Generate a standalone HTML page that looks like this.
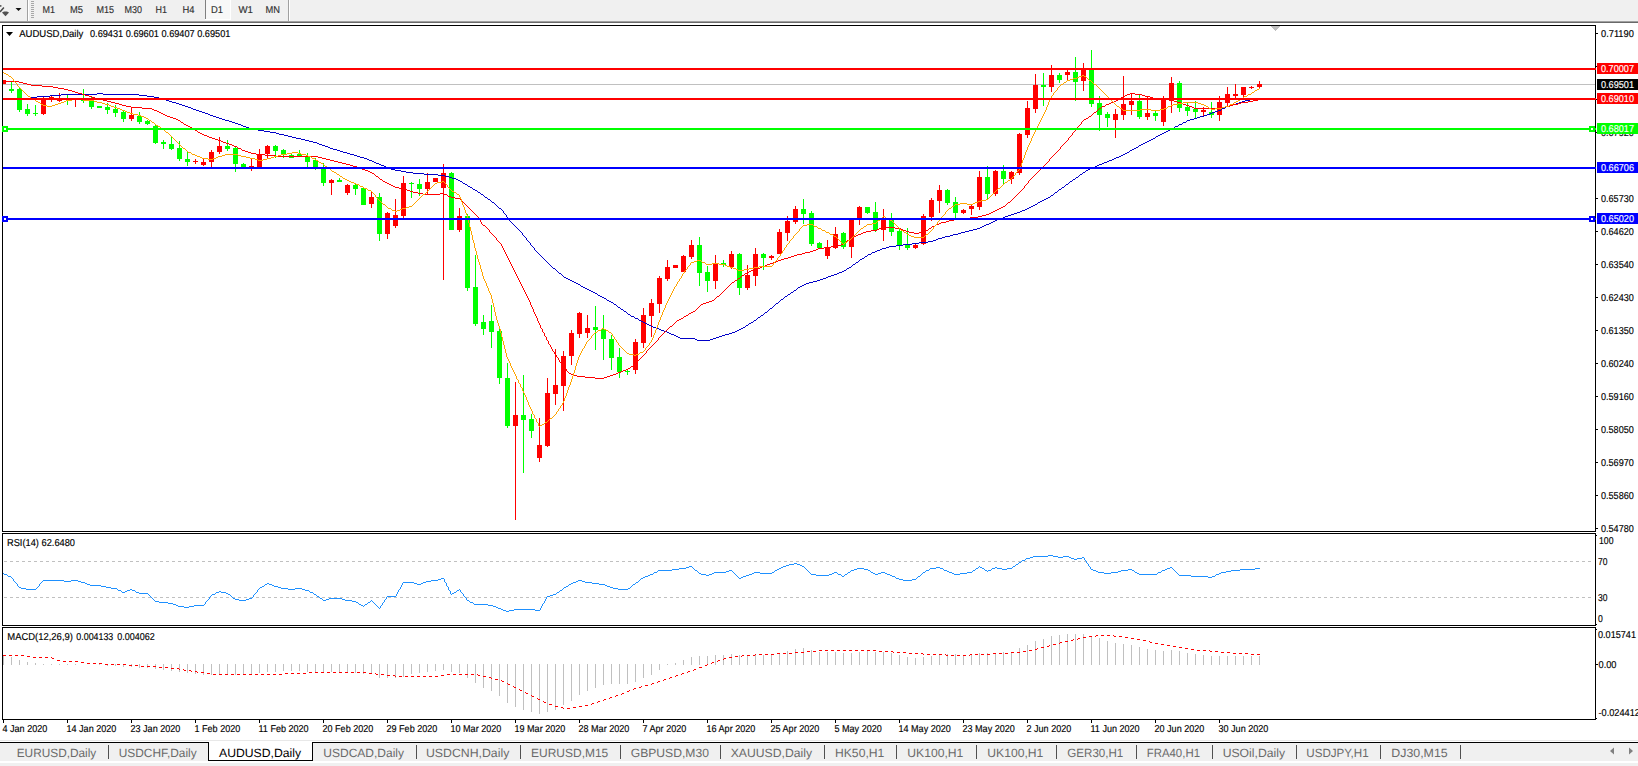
<!DOCTYPE html>
<html><head><meta charset="utf-8"><title>AUDUSD,Daily</title>
<style>html,body{margin:0;padding:0;background:#fff;overflow:hidden}body{width:1638px;height:766px;position:relative}svg{position:absolute;left:0;top:0;display:block}text{font-family:"Liberation Sans",sans-serif;white-space:pre;text-rendering:geometricPrecision}.c{shape-rendering:crispEdges}</style></head><body>
<svg width="1638" height="766" viewBox="0 0 1638 766">
<g class="c">
<rect x="0" y="0" width="1638" height="21" fill="#f0f0f0"/>
<rect x="0" y="21" width="1638" height="1" fill="#a0a0a0"/>
<rect x="0" y="22" width="1638" height="1" fill="#696969"/>
<rect x="27" y="0" width="1" height="21" fill="#a0a0a0"/>
<rect x="28" y="0" width="1" height="21" fill="#ffffff"/>
<rect x="31" y="1" width="3" height="1" fill="#a8a8a8"/>
<rect x="31" y="3" width="3" height="1" fill="#a8a8a8"/>
<rect x="31" y="5" width="3" height="1" fill="#a8a8a8"/>
<rect x="31" y="7" width="3" height="1" fill="#a8a8a8"/>
<rect x="31" y="9" width="3" height="1" fill="#a8a8a8"/>
<rect x="31" y="11" width="3" height="1" fill="#a8a8a8"/>
<rect x="31" y="13" width="3" height="1" fill="#a8a8a8"/>
<rect x="31" y="15" width="3" height="1" fill="#a8a8a8"/>
<rect x="31" y="17" width="3" height="1" fill="#a8a8a8"/>
<rect x="205" y="0" width="26" height="20" fill="#ffffff"/>
<rect x="206" y="0" width="24" height="19" fill="#f8f8f8"/>
<rect x="205" y="0" width="1" height="19" fill="#808080"/>
<rect x="288" y="0" width="1" height="21" fill="#a0a0a0"/>
<rect x="289" y="0" width="1" height="21" fill="#ffffff"/>
</g>
<path d="M0 11.9 L3.9 7.4 M0 5.6 L1.4 6.2" stroke="#4a4a4a" stroke-width="1.5" fill="none"/>
<path d="M2 12.6 L4 11.4 L7 11.4 L9 12.6 L5.5 16.2 Z" fill="#505050"/>
<path d="M15.5 8 L21.5 8 L18.5 11 Z" fill="#111"/>
<text x="42.5" y="13" font-size="10" fill="#303030" stroke="#303030" stroke-width="0.15" textLength="12.5" lengthAdjust="spacingAndGlyphs" stroke-width="0">M1</text>
<text x="70" y="13" font-size="10" fill="#303030" stroke="#303030" stroke-width="0.15" textLength="13" lengthAdjust="spacingAndGlyphs" stroke-width="0">M5</text>
<text x="96.5" y="13" font-size="10" fill="#303030" stroke="#303030" stroke-width="0.15" textLength="17.5" lengthAdjust="spacingAndGlyphs" stroke-width="0">M15</text>
<text x="124.5" y="13" font-size="10" fill="#303030" stroke="#303030" stroke-width="0.15" textLength="17.5" lengthAdjust="spacingAndGlyphs" stroke-width="0">M30</text>
<text x="155.5" y="13" font-size="10" fill="#303030" stroke="#303030" stroke-width="0.15" textLength="11.5" lengthAdjust="spacingAndGlyphs" stroke-width="0">H1</text>
<text x="182.5" y="13" font-size="10" fill="#303030" stroke="#303030" stroke-width="0.15" textLength="12.0" lengthAdjust="spacingAndGlyphs" stroke-width="0">H4</text>
<text x="211" y="13" font-size="10" fill="#303030" stroke="#303030" stroke-width="0.15" textLength="12" lengthAdjust="spacingAndGlyphs" stroke-width="0">D1</text>
<text x="238.5" y="13" font-size="10" fill="#303030" stroke="#303030" stroke-width="0.15" textLength="14.5" lengthAdjust="spacingAndGlyphs" stroke-width="0">W1</text>
<text x="265.5" y="13" font-size="10" fill="#303030" stroke="#303030" stroke-width="0.15" textLength="14.5" lengthAdjust="spacingAndGlyphs" stroke-width="0">MN</text>
<g class="c">
<rect x="2" y="25" width="1" height="507" fill="#000"/>
<rect x="1595" y="25" width="1" height="507" fill="#000"/>
<rect x="2" y="533" width="1" height="93" fill="#000"/>
<rect x="1595" y="533" width="1" height="93" fill="#000"/>
<rect x="2" y="627" width="1" height="93" fill="#000"/>
<rect x="1595" y="627" width="1" height="93" fill="#000"/>
<rect x="2" y="25" width="1593" height="1" fill="#000"/>
<rect x="2" y="531" width="1593" height="1" fill="#000"/>
<rect x="2" y="533" width="1593" height="1" fill="#000"/>
<rect x="2" y="625" width="1593" height="1" fill="#000"/>
<rect x="2" y="627" width="1593" height="1" fill="#000"/>
<rect x="2" y="719" width="1593" height="1" fill="#000"/>
<rect x="1596" y="535" width="1" height="1" fill="#000"/>
<rect x="1596" y="624" width="1" height="1" fill="#000"/>
<rect x="1596" y="629" width="1" height="1" fill="#000"/>
<rect x="1596" y="718" width="1" height="1" fill="#000"/>
<rect x="3" y="720" width="1" height="3" fill="#000"/>
<rect x="67" y="720" width="1" height="3" fill="#000"/>
<rect x="131" y="720" width="1" height="3" fill="#000"/>
<rect x="195" y="720" width="1" height="3" fill="#000"/>
<rect x="259" y="720" width="1" height="3" fill="#000"/>
<rect x="323" y="720" width="1" height="3" fill="#000"/>
<rect x="387" y="720" width="1" height="3" fill="#000"/>
<rect x="451" y="720" width="1" height="3" fill="#000"/>
<rect x="515" y="720" width="1" height="3" fill="#000"/>
<rect x="579" y="720" width="1" height="3" fill="#000"/>
<rect x="643" y="720" width="1" height="3" fill="#000"/>
<rect x="707" y="720" width="1" height="3" fill="#000"/>
<rect x="771" y="720" width="1" height="3" fill="#000"/>
<rect x="835" y="720" width="1" height="3" fill="#000"/>
<rect x="899" y="720" width="1" height="3" fill="#000"/>
<rect x="963" y="720" width="1" height="3" fill="#000"/>
<rect x="1027" y="720" width="1" height="3" fill="#000"/>
<rect x="1091" y="720" width="1" height="3" fill="#000"/>
<rect x="1155" y="720" width="1" height="3" fill="#000"/>
<rect x="1219" y="720" width="1" height="3" fill="#000"/>
</g>
<clipPath id="cm"><rect x="3" y="26" width="1592" height="505"/></clipPath>
<g class="c" clip-path="url(#cm)">
<rect x="3" y="84" width="1592" height="1" fill="#c0c0c0"/>
<rect x="3" y="80" width="1" height="4" fill="#ff0000"/>
<rect x="1" y="80" width="5" height="4" fill="#ff0000"/>
<rect x="11" y="82" width="1" height="11" fill="#00ff00"/>
<rect x="9" y="89" width="5" height="2" fill="#00ff00"/>
<rect x="19" y="87" width="1" height="25" fill="#00ff00"/>
<rect x="17" y="89" width="5" height="21" fill="#00ff00"/>
<rect x="27" y="104" width="1" height="12" fill="#00ff00"/>
<rect x="25" y="109" width="5" height="5" fill="#00ff00"/>
<rect x="35" y="105" width="1" height="11" fill="#00ff00"/>
<rect x="33" y="113" width="5" height="1" fill="#00ff00"/>
<rect x="43" y="97" width="1" height="18" fill="#ff0000"/>
<rect x="41" y="98" width="5" height="16" fill="#ff0000"/>
<rect x="51" y="96" width="1" height="6" fill="#ff0000"/>
<rect x="49" y="97" width="5" height="3" fill="#ff0000"/>
<rect x="59" y="93" width="1" height="9" fill="#ff0000"/>
<rect x="57" y="98" width="5" height="3" fill="#ff0000"/>
<rect x="67" y="95" width="1" height="10" fill="#00ff00"/>
<rect x="65" y="99" width="5" height="1" fill="#00ff00"/>
<rect x="75" y="99" width="1" height="8" fill="#ff0000"/>
<rect x="73" y="99" width="5" height="1" fill="#ff0000"/>
<rect x="83" y="89" width="1" height="14" fill="#00ff00"/>
<rect x="81" y="98" width="5" height="3" fill="#00ff00"/>
<rect x="91" y="96" width="1" height="13" fill="#00ff00"/>
<rect x="89" y="100" width="5" height="7" fill="#00ff00"/>
<rect x="99" y="106" width="1" height="2" fill="#00ff00"/>
<rect x="97" y="106" width="5" height="2" fill="#00ff00"/>
<rect x="107" y="103" width="1" height="11" fill="#00ff00"/>
<rect x="105" y="107" width="5" height="3" fill="#00ff00"/>
<rect x="115" y="105" width="1" height="12" fill="#00ff00"/>
<rect x="113" y="109" width="5" height="4" fill="#00ff00"/>
<rect x="123" y="111" width="1" height="11" fill="#00ff00"/>
<rect x="121" y="112" width="5" height="7" fill="#00ff00"/>
<rect x="131" y="107" width="1" height="14" fill="#ff0000"/>
<rect x="129" y="115" width="5" height="4" fill="#ff0000"/>
<rect x="139" y="112" width="1" height="12" fill="#00ff00"/>
<rect x="137" y="116" width="5" height="6" fill="#00ff00"/>
<rect x="147" y="120" width="1" height="5" fill="#00ff00"/>
<rect x="145" y="121" width="5" height="3" fill="#00ff00"/>
<rect x="155" y="125" width="1" height="19" fill="#00ff00"/>
<rect x="153" y="126" width="5" height="17" fill="#00ff00"/>
<rect x="163" y="140" width="1" height="9" fill="#00ff00"/>
<rect x="161" y="142" width="5" height="2" fill="#00ff00"/>
<rect x="171" y="136" width="1" height="14" fill="#00ff00"/>
<rect x="169" y="144" width="5" height="5" fill="#00ff00"/>
<rect x="179" y="141" width="1" height="20" fill="#00ff00"/>
<rect x="177" y="148" width="5" height="11" fill="#00ff00"/>
<rect x="187" y="152" width="1" height="14" fill="#00ff00"/>
<rect x="185" y="159" width="5" height="3" fill="#00ff00"/>
<rect x="195" y="159" width="1" height="5" fill="#ff0000"/>
<rect x="193" y="161" width="5" height="1" fill="#ff0000"/>
<rect x="203" y="159" width="1" height="7" fill="#ff0000"/>
<rect x="201" y="162" width="5" height="3" fill="#ff0000"/>
<rect x="211" y="150" width="1" height="17" fill="#ff0000"/>
<rect x="209" y="152" width="5" height="10" fill="#ff0000"/>
<rect x="219" y="137" width="1" height="17" fill="#ff0000"/>
<rect x="217" y="146" width="5" height="6" fill="#ff0000"/>
<rect x="227" y="140" width="1" height="11" fill="#00ff00"/>
<rect x="225" y="146" width="5" height="3" fill="#00ff00"/>
<rect x="235" y="147" width="1" height="25" fill="#00ff00"/>
<rect x="233" y="148" width="5" height="16" fill="#00ff00"/>
<rect x="243" y="163" width="1" height="5" fill="#00ff00"/>
<rect x="241" y="164" width="5" height="3" fill="#00ff00"/>
<rect x="251" y="159" width="1" height="12" fill="#ff0000"/>
<rect x="249" y="166" width="5" height="2" fill="#ff0000"/>
<rect x="259" y="149" width="1" height="19" fill="#ff0000"/>
<rect x="257" y="154" width="5" height="13" fill="#ff0000"/>
<rect x="267" y="145" width="1" height="13" fill="#ff0000"/>
<rect x="265" y="146" width="5" height="8" fill="#ff0000"/>
<rect x="275" y="145" width="1" height="13" fill="#00ff00"/>
<rect x="273" y="146" width="5" height="5" fill="#00ff00"/>
<rect x="283" y="149" width="1" height="9" fill="#00ff00"/>
<rect x="281" y="150" width="5" height="5" fill="#00ff00"/>
<rect x="291" y="154" width="1" height="4" fill="#00ff00"/>
<rect x="289" y="155" width="5" height="3" fill="#00ff00"/>
<rect x="299" y="150" width="1" height="7" fill="#00ff00"/>
<rect x="297" y="154" width="5" height="2" fill="#00ff00"/>
<rect x="307" y="153" width="1" height="14" fill="#00ff00"/>
<rect x="305" y="156" width="5" height="6" fill="#00ff00"/>
<rect x="315" y="158" width="1" height="12" fill="#00ff00"/>
<rect x="313" y="160" width="5" height="7" fill="#00ff00"/>
<rect x="323" y="163" width="1" height="23" fill="#00ff00"/>
<rect x="321" y="169" width="5" height="14" fill="#00ff00"/>
<rect x="331" y="179" width="1" height="16" fill="#ff0000"/>
<rect x="329" y="180" width="5" height="3" fill="#ff0000"/>
<rect x="339" y="178" width="1" height="4" fill="#00ff00"/>
<rect x="337" y="180" width="5" height="2" fill="#00ff00"/>
<rect x="347" y="184" width="1" height="11" fill="#ff0000"/>
<rect x="345" y="185" width="5" height="8" fill="#ff0000"/>
<rect x="355" y="184" width="1" height="11" fill="#00ff00"/>
<rect x="353" y="185" width="5" height="4" fill="#00ff00"/>
<rect x="363" y="188" width="1" height="17" fill="#00ff00"/>
<rect x="361" y="188" width="5" height="17" fill="#00ff00"/>
<rect x="371" y="192" width="1" height="16" fill="#ff0000"/>
<rect x="369" y="197" width="5" height="7" fill="#ff0000"/>
<rect x="379" y="193" width="1" height="48" fill="#00ff00"/>
<rect x="377" y="197" width="5" height="37" fill="#00ff00"/>
<rect x="387" y="212" width="1" height="27" fill="#ff0000"/>
<rect x="385" y="213" width="5" height="21" fill="#ff0000"/>
<rect x="395" y="199" width="1" height="29" fill="#ff0000"/>
<rect x="393" y="215" width="5" height="11" fill="#ff0000"/>
<rect x="403" y="176" width="1" height="42" fill="#ff0000"/>
<rect x="401" y="183" width="5" height="33" fill="#ff0000"/>
<rect x="411" y="182" width="1" height="16" fill="#00ff00"/>
<rect x="409" y="183" width="5" height="1" fill="#00ff00"/>
<rect x="419" y="179" width="1" height="17" fill="#00ff00"/>
<rect x="417" y="184" width="5" height="5" fill="#00ff00"/>
<rect x="427" y="173" width="1" height="21" fill="#ff0000"/>
<rect x="425" y="182" width="5" height="7" fill="#ff0000"/>
<rect x="435" y="178" width="1" height="4" fill="#ff0000"/>
<rect x="433" y="178" width="5" height="4" fill="#ff0000"/>
<rect x="443" y="164" width="1" height="116" fill="#ff0000"/>
<rect x="441" y="173" width="5" height="15" fill="#ff0000"/>
<rect x="451" y="172" width="1" height="58" fill="#00ff00"/>
<rect x="449" y="173" width="5" height="57" fill="#00ff00"/>
<rect x="459" y="208" width="1" height="24" fill="#ff0000"/>
<rect x="457" y="216" width="5" height="14" fill="#ff0000"/>
<rect x="467" y="214" width="1" height="77" fill="#00ff00"/>
<rect x="465" y="216" width="5" height="72" fill="#00ff00"/>
<rect x="475" y="255" width="1" height="71" fill="#00ff00"/>
<rect x="473" y="287" width="5" height="37" fill="#00ff00"/>
<rect x="483" y="315" width="1" height="20" fill="#00ff00"/>
<rect x="481" y="322" width="5" height="7" fill="#00ff00"/>
<rect x="491" y="305" width="1" height="43" fill="#00ff00"/>
<rect x="489" y="321" width="5" height="11" fill="#00ff00"/>
<rect x="499" y="326" width="1" height="58" fill="#00ff00"/>
<rect x="497" y="331" width="5" height="47" fill="#00ff00"/>
<rect x="507" y="363" width="1" height="65" fill="#00ff00"/>
<rect x="505" y="378" width="5" height="48" fill="#00ff00"/>
<rect x="515" y="382" width="1" height="138" fill="#ff0000"/>
<rect x="513" y="415" width="5" height="11" fill="#ff0000"/>
<rect x="523" y="375" width="1" height="98" fill="#00ff00"/>
<rect x="521" y="415" width="5" height="5" fill="#00ff00"/>
<rect x="531" y="414" width="1" height="24" fill="#00ff00"/>
<rect x="529" y="419" width="5" height="12" fill="#00ff00"/>
<rect x="539" y="418" width="1" height="44" fill="#ff0000"/>
<rect x="537" y="445" width="5" height="13" fill="#ff0000"/>
<rect x="547" y="378" width="1" height="69" fill="#ff0000"/>
<rect x="545" y="393" width="5" height="53" fill="#ff0000"/>
<rect x="555" y="349" width="1" height="56" fill="#ff0000"/>
<rect x="553" y="385" width="5" height="9" fill="#ff0000"/>
<rect x="563" y="351" width="1" height="60" fill="#ff0000"/>
<rect x="561" y="356" width="5" height="30" fill="#ff0000"/>
<rect x="571" y="330" width="1" height="35" fill="#ff0000"/>
<rect x="569" y="333" width="5" height="23" fill="#ff0000"/>
<rect x="579" y="312" width="1" height="26" fill="#ff0000"/>
<rect x="577" y="313" width="5" height="21" fill="#ff0000"/>
<rect x="587" y="315" width="1" height="23" fill="#ff0000"/>
<rect x="585" y="328" width="5" height="5" fill="#ff0000"/>
<rect x="595" y="306" width="1" height="44" fill="#00ff00"/>
<rect x="593" y="327" width="5" height="3" fill="#00ff00"/>
<rect x="603" y="315" width="1" height="45" fill="#00ff00"/>
<rect x="601" y="329" width="5" height="10" fill="#00ff00"/>
<rect x="611" y="335" width="1" height="35" fill="#00ff00"/>
<rect x="609" y="339" width="5" height="19" fill="#00ff00"/>
<rect x="619" y="348" width="1" height="30" fill="#00ff00"/>
<rect x="617" y="357" width="5" height="15" fill="#00ff00"/>
<rect x="627" y="370" width="1" height="5" fill="#00ff00"/>
<rect x="625" y="371" width="5" height="1" fill="#00ff00"/>
<rect x="635" y="339" width="1" height="35" fill="#ff0000"/>
<rect x="633" y="342" width="5" height="28" fill="#ff0000"/>
<rect x="643" y="308" width="1" height="40" fill="#ff0000"/>
<rect x="641" y="315" width="5" height="28" fill="#ff0000"/>
<rect x="651" y="299" width="1" height="38" fill="#ff0000"/>
<rect x="649" y="303" width="5" height="13" fill="#ff0000"/>
<rect x="659" y="276" width="1" height="37" fill="#ff0000"/>
<rect x="657" y="278" width="5" height="26" fill="#ff0000"/>
<rect x="667" y="260" width="1" height="21" fill="#ff0000"/>
<rect x="665" y="267" width="5" height="12" fill="#ff0000"/>
<rect x="675" y="265" width="1" height="3" fill="#ff0000"/>
<rect x="673" y="265" width="5" height="3" fill="#ff0000"/>
<rect x="683" y="255" width="1" height="17" fill="#ff0000"/>
<rect x="681" y="256" width="5" height="16" fill="#ff0000"/>
<rect x="691" y="240" width="1" height="19" fill="#ff0000"/>
<rect x="689" y="245" width="5" height="12" fill="#ff0000"/>
<rect x="699" y="237" width="1" height="49" fill="#00ff00"/>
<rect x="697" y="245" width="5" height="28" fill="#00ff00"/>
<rect x="707" y="266" width="1" height="26" fill="#00ff00"/>
<rect x="705" y="272" width="5" height="9" fill="#00ff00"/>
<rect x="715" y="255" width="1" height="34" fill="#ff0000"/>
<rect x="713" y="263" width="5" height="18" fill="#ff0000"/>
<rect x="723" y="260" width="1" height="7" fill="#00ff00"/>
<rect x="721" y="263" width="5" height="2" fill="#00ff00"/>
<rect x="731" y="251" width="1" height="18" fill="#ff0000"/>
<rect x="729" y="254" width="5" height="13" fill="#ff0000"/>
<rect x="739" y="253" width="1" height="42" fill="#00ff00"/>
<rect x="737" y="254" width="5" height="34" fill="#00ff00"/>
<rect x="747" y="265" width="1" height="25" fill="#ff0000"/>
<rect x="745" y="275" width="5" height="13" fill="#ff0000"/>
<rect x="755" y="248" width="1" height="38" fill="#ff0000"/>
<rect x="753" y="254" width="5" height="22" fill="#ff0000"/>
<rect x="763" y="253" width="1" height="17" fill="#00ff00"/>
<rect x="761" y="254" width="5" height="4" fill="#00ff00"/>
<rect x="771" y="255" width="1" height="5" fill="#ff0000"/>
<rect x="769" y="256" width="5" height="2" fill="#ff0000"/>
<rect x="779" y="229" width="1" height="25" fill="#ff0000"/>
<rect x="777" y="232" width="5" height="22" fill="#ff0000"/>
<rect x="787" y="216" width="1" height="25" fill="#ff0000"/>
<rect x="785" y="221" width="5" height="12" fill="#ff0000"/>
<rect x="795" y="206" width="1" height="18" fill="#ff0000"/>
<rect x="793" y="209" width="5" height="13" fill="#ff0000"/>
<rect x="803" y="199" width="1" height="25" fill="#00ff00"/>
<rect x="801" y="209" width="5" height="5" fill="#00ff00"/>
<rect x="811" y="211" width="1" height="35" fill="#00ff00"/>
<rect x="809" y="213" width="5" height="31" fill="#00ff00"/>
<rect x="819" y="242" width="1" height="6" fill="#00ff00"/>
<rect x="817" y="243" width="5" height="5" fill="#00ff00"/>
<rect x="827" y="240" width="1" height="19" fill="#ff0000"/>
<rect x="825" y="247" width="5" height="9" fill="#ff0000"/>
<rect x="835" y="227" width="1" height="22" fill="#ff0000"/>
<rect x="833" y="234" width="5" height="14" fill="#ff0000"/>
<rect x="843" y="232" width="1" height="17" fill="#00ff00"/>
<rect x="841" y="233" width="5" height="14" fill="#00ff00"/>
<rect x="851" y="219" width="1" height="39" fill="#ff0000"/>
<rect x="849" y="220" width="5" height="27" fill="#ff0000"/>
<rect x="859" y="206" width="1" height="19" fill="#ff0000"/>
<rect x="857" y="207" width="5" height="13" fill="#ff0000"/>
<rect x="867" y="207" width="1" height="7" fill="#00ff00"/>
<rect x="865" y="207" width="5" height="6" fill="#00ff00"/>
<rect x="875" y="202" width="1" height="30" fill="#00ff00"/>
<rect x="873" y="212" width="5" height="18" fill="#00ff00"/>
<rect x="883" y="209" width="1" height="32" fill="#ff0000"/>
<rect x="881" y="218" width="5" height="12" fill="#ff0000"/>
<rect x="891" y="213" width="1" height="23" fill="#00ff00"/>
<rect x="889" y="219" width="5" height="13" fill="#00ff00"/>
<rect x="899" y="228" width="1" height="22" fill="#00ff00"/>
<rect x="897" y="231" width="5" height="14" fill="#00ff00"/>
<rect x="907" y="228" width="1" height="22" fill="#00ff00"/>
<rect x="905" y="244" width="5" height="4" fill="#00ff00"/>
<rect x="915" y="244" width="1" height="5" fill="#ff0000"/>
<rect x="913" y="245" width="5" height="3" fill="#ff0000"/>
<rect x="923" y="214" width="1" height="31" fill="#ff0000"/>
<rect x="921" y="216" width="5" height="28" fill="#ff0000"/>
<rect x="931" y="198" width="1" height="23" fill="#ff0000"/>
<rect x="929" y="200" width="5" height="17" fill="#ff0000"/>
<rect x="939" y="185" width="1" height="28" fill="#ff0000"/>
<rect x="937" y="190" width="5" height="11" fill="#ff0000"/>
<rect x="947" y="189" width="1" height="16" fill="#00ff00"/>
<rect x="945" y="190" width="5" height="13" fill="#00ff00"/>
<rect x="955" y="197" width="1" height="21" fill="#00ff00"/>
<rect x="953" y="202" width="5" height="11" fill="#00ff00"/>
<rect x="963" y="209" width="1" height="5" fill="#ff0000"/>
<rect x="961" y="210" width="5" height="3" fill="#ff0000"/>
<rect x="971" y="204" width="1" height="11" fill="#ff0000"/>
<rect x="969" y="206" width="5" height="3" fill="#ff0000"/>
<rect x="979" y="171" width="1" height="39" fill="#ff0000"/>
<rect x="977" y="177" width="5" height="30" fill="#ff0000"/>
<rect x="987" y="166" width="1" height="34" fill="#00ff00"/>
<rect x="985" y="177" width="5" height="17" fill="#00ff00"/>
<rect x="995" y="170" width="1" height="26" fill="#ff0000"/>
<rect x="993" y="171" width="5" height="23" fill="#ff0000"/>
<rect x="1003" y="165" width="1" height="20" fill="#00ff00"/>
<rect x="1001" y="171" width="5" height="8" fill="#00ff00"/>
<rect x="1011" y="171" width="1" height="13" fill="#ff0000"/>
<rect x="1009" y="172" width="5" height="7" fill="#ff0000"/>
<rect x="1019" y="133" width="1" height="42" fill="#ff0000"/>
<rect x="1017" y="134" width="5" height="39" fill="#ff0000"/>
<rect x="1027" y="101" width="1" height="37" fill="#ff0000"/>
<rect x="1025" y="108" width="5" height="27" fill="#ff0000"/>
<rect x="1035" y="74" width="1" height="39" fill="#ff0000"/>
<rect x="1033" y="85" width="5" height="24" fill="#ff0000"/>
<rect x="1043" y="73" width="1" height="33" fill="#00ff00"/>
<rect x="1041" y="85" width="5" height="2" fill="#00ff00"/>
<rect x="1051" y="65" width="1" height="27" fill="#ff0000"/>
<rect x="1049" y="75" width="5" height="12" fill="#ff0000"/>
<rect x="1059" y="73" width="1" height="10" fill="#00ff00"/>
<rect x="1057" y="75" width="5" height="5" fill="#00ff00"/>
<rect x="1067" y="70" width="1" height="11" fill="#ff0000"/>
<rect x="1065" y="72" width="5" height="3" fill="#ff0000"/>
<rect x="1075" y="57" width="1" height="44" fill="#00ff00"/>
<rect x="1073" y="72" width="5" height="10" fill="#00ff00"/>
<rect x="1083" y="63" width="1" height="28" fill="#ff0000"/>
<rect x="1081" y="69" width="5" height="12" fill="#ff0000"/>
<rect x="1091" y="50" width="1" height="57" fill="#00ff00"/>
<rect x="1089" y="69" width="5" height="35" fill="#00ff00"/>
<rect x="1099" y="96" width="1" height="35" fill="#00ff00"/>
<rect x="1097" y="103" width="5" height="12" fill="#00ff00"/>
<rect x="1107" y="112" width="1" height="15" fill="#00ff00"/>
<rect x="1105" y="114" width="5" height="4" fill="#00ff00"/>
<rect x="1115" y="109" width="1" height="29" fill="#ff0000"/>
<rect x="1113" y="114" width="5" height="6" fill="#ff0000"/>
<rect x="1123" y="76" width="1" height="44" fill="#ff0000"/>
<rect x="1121" y="104" width="5" height="11" fill="#ff0000"/>
<rect x="1131" y="93" width="1" height="22" fill="#ff0000"/>
<rect x="1129" y="101" width="5" height="4" fill="#ff0000"/>
<rect x="1139" y="95" width="1" height="24" fill="#00ff00"/>
<rect x="1137" y="101" width="5" height="16" fill="#00ff00"/>
<rect x="1147" y="97" width="1" height="23" fill="#ff0000"/>
<rect x="1145" y="113" width="5" height="4" fill="#ff0000"/>
<rect x="1155" y="111" width="1" height="10" fill="#00ff00"/>
<rect x="1153" y="113" width="5" height="3" fill="#00ff00"/>
<rect x="1163" y="96" width="1" height="30" fill="#ff0000"/>
<rect x="1161" y="99" width="5" height="23" fill="#ff0000"/>
<rect x="1171" y="77" width="1" height="36" fill="#ff0000"/>
<rect x="1169" y="83" width="5" height="18" fill="#ff0000"/>
<rect x="1179" y="81" width="1" height="31" fill="#00ff00"/>
<rect x="1177" y="83" width="5" height="25" fill="#00ff00"/>
<rect x="1187" y="103" width="1" height="13" fill="#00ff00"/>
<rect x="1185" y="107" width="5" height="4" fill="#00ff00"/>
<rect x="1195" y="101" width="1" height="17" fill="#00ff00"/>
<rect x="1193" y="109" width="5" height="3" fill="#00ff00"/>
<rect x="1203" y="107" width="1" height="9" fill="#ff0000"/>
<rect x="1201" y="110" width="5" height="2" fill="#ff0000"/>
<rect x="1211" y="102" width="1" height="16" fill="#00ff00"/>
<rect x="1209" y="112" width="5" height="3" fill="#00ff00"/>
<rect x="1219" y="96" width="1" height="25" fill="#ff0000"/>
<rect x="1217" y="102" width="5" height="13" fill="#ff0000"/>
<rect x="1227" y="87" width="1" height="19" fill="#ff0000"/>
<rect x="1225" y="94" width="5" height="9" fill="#ff0000"/>
<rect x="1235" y="84" width="1" height="14" fill="#ff0000"/>
<rect x="1233" y="94" width="5" height="2" fill="#ff0000"/>
<rect x="1243" y="87" width="1" height="10" fill="#ff0000"/>
<rect x="1241" y="87" width="5" height="8" fill="#ff0000"/>
<rect x="1251" y="86" width="1" height="3" fill="#ff0000"/>
<rect x="1249" y="87" width="5" height="1" fill="#ff0000"/>
<rect x="1259" y="81" width="1" height="7" fill="#ff0000"/>
<rect x="1257" y="84" width="5" height="3" fill="#ff0000"/>
</g>
<path class="c" fill="#0000c8" d="M97 93h6v1h-6zM61 94h36v1h-36zM103 94h36v1h-36zM50 95h11v1h-11zM139 95h8v1h-8zM37 96h13v1h-13zM147 96h7v1h-7zM30 97h7v1h-7zM154 97h5v1h-5zM159 98h4v1h-4zM1255 98h5v1h-5zM163 99h3v1h-3zM1250 99h5v1h-5zM166 100h3v1h-3zM1245 100h5v1h-5zM169 101h3v1h-3zM1242 101h3v1h-3zM172 102h4v1h-4zM1239 102h3v1h-3zM176 103h3v1h-3zM1236 103h3v1h-3zM179 104h3v1h-3zM1232 104h4v1h-4zM182 105h3v1h-3zM1229 105h3v1h-3zM185 106h3v1h-3zM1226 106h3v1h-3zM188 107h3v1h-3zM1225 107h1v1h-1zM191 108h2v1h-2zM1222 108h3v1h-3zM193 109h3v1h-3zM1221 109h1v1h-1zM196 110h3v1h-3zM1218 110h3v1h-3zM199 111h3v1h-3zM1215 111h3v1h-3zM202 112h3v1h-3zM1212 112h3v1h-3zM205 113h3v1h-3zM1210 113h2v1h-2zM208 114h2v1h-2zM1207 114h3v1h-3zM210 115h3v1h-3zM1204 115h3v1h-3zM213 116h3v1h-3zM1200 116h4v1h-4zM216 117h3v1h-3zM1197 117h3v1h-3zM219 118h3v1h-3zM1194 118h3v1h-3zM222 119h3v1h-3zM1190 119h4v1h-4zM225 120h4v1h-4zM1187 120h3v1h-3zM229 121h3v1h-3zM1186 121h1v1h-1zM232 122h3v1h-3zM1183 122h3v1h-3zM235 123h3v1h-3zM1182 123h1v1h-1zM238 124h3v1h-3zM1179 124h3v1h-3zM241 125h2v1h-2zM1178 125h1v1h-1zM243 126h3v1h-3zM1175 126h3v1h-3zM246 127h3v1h-3zM1174 127h1v1h-1zM249 128h4v1h-4zM1172 128h2v1h-2zM253 129h5v1h-5zM1170 129h2v1h-2zM258 130h6v1h-6zM1168 130h2v1h-2zM264 131h6v1h-6zM1166 131h2v1h-2zM270 132h6v1h-6zM1164 132h2v1h-2zM276 133h3v1h-3zM1162 133h2v1h-2zM279 134h5v1h-5zM1160 134h2v1h-2zM284 135h4v1h-4zM1158 135h2v1h-2zM288 136h4v1h-4zM1156 136h2v1h-2zM292 137h4v1h-4zM1155 137h1v1h-1zM296 138h5v1h-5zM1153 138h2v1h-2zM301 139h4v1h-4zM1151 139h2v1h-2zM305 140h4v1h-4zM1149 140h2v1h-2zM309 141h4v1h-4zM1147 141h2v1h-2zM313 142h4v1h-4zM1145 142h2v1h-2zM317 143h2v1h-2zM1143 143h2v1h-2zM319 144h3v1h-3zM1141 144h2v1h-2zM322 145h3v1h-3zM1139 145h2v1h-2zM325 146h3v1h-3zM1138 146h1v1h-1zM328 147h2v1h-2zM1136 147h2v1h-2zM330 148h3v1h-3zM1134 148h2v1h-2zM333 149h4v1h-4zM1132 149h2v1h-2zM337 150h3v1h-3zM1130 150h2v1h-2zM340 151h3v1h-3zM1129 151h1v1h-1zM343 152h4v1h-4zM1127 152h2v1h-2zM347 153h3v1h-3zM1125 153h2v1h-2zM350 154h4v1h-4zM1123 154h2v1h-2zM354 155h3v1h-3zM1121 155h2v1h-2zM357 156h3v1h-3zM1119 156h2v1h-2zM360 157h4v1h-4zM1116 157h3v1h-3zM364 158h3v1h-3zM1114 158h2v1h-2zM367 159h2v1h-2zM1112 159h2v1h-2zM369 160h3v1h-3zM1109 160h3v1h-3zM372 161h2v1h-2zM1107 161h2v1h-2zM374 162h2v1h-2zM1104 162h3v1h-3zM376 163h3v1h-3zM1102 163h2v1h-2zM379 164h2v1h-2zM1099 164h3v1h-3zM381 165h3v1h-3zM1097 165h2v1h-2zM384 166h2v1h-2zM1095 166h2v1h-2zM386 167h3v1h-3zM1092 167h3v1h-3zM389 168h2v1h-2zM1090 168h2v1h-2zM391 169h4v1h-4zM1088 169h2v1h-2zM395 170h6v1h-6zM1086 170h2v1h-2zM401 171h5v1h-5zM1085 171h1v1h-1zM406 172h7v1h-7zM1083 172h2v1h-2zM413 173h11v1h-11zM1082 173h1v1h-1zM424 174h14v1h-14zM1080 174h2v1h-2zM438 175h7v1h-7zM1079 175h1v1h-1zM445 176h4v1h-4zM1078 176h1v1h-1zM449 177h3v1h-3zM1076 177h2v1h-2zM452 178h4v1h-4zM1075 178h1v1h-1zM456 179h2v1h-2zM1073 179h2v1h-2zM458 180h2v1h-2zM1072 180h1v1h-1zM460 181h2v1h-2zM1070 181h2v1h-2zM462 182h1v1h-1zM1069 182h1v1h-1zM463 183h2v1h-2zM1068 183h1v1h-1zM465 184h2v1h-2zM1066 184h2v1h-2zM467 185h1v1h-1zM1065 185h1v1h-1zM468 186h2v1h-2zM1064 186h1v1h-1zM470 187h2v1h-2zM1062 187h2v1h-2zM472 188h1v1h-1zM1061 188h1v1h-1zM473 189h2v1h-2zM1059 189h2v1h-2zM475 190h2v1h-2zM1058 190h1v1h-1zM477 191h1v1h-1zM1057 191h1v1h-1zM478 192h2v1h-2zM1055 192h2v1h-2zM480 193h1v1h-1zM1054 193h1v1h-1zM481 194h2v1h-2zM1053 194h1v1h-1zM483 195h1v1h-1zM1051 195h2v1h-2zM484 196h1v1h-1zM1050 196h1v1h-1zM485 197h2v1h-2zM1048 197h2v1h-2zM487 198h1v1h-1zM1046 198h2v1h-2zM488 199h2v1h-2zM1044 199h2v1h-2zM490 200h1v1h-1zM1042 200h2v1h-2zM491 201h1v1h-1zM1040 201h2v1h-2zM492 202h2v1h-2zM1038 202h2v1h-2zM494 203h1v1h-1zM1037 203h1v1h-1zM495 204h1v1h-1zM1035 204h2v1h-2zM496 205h1v1h-1zM1033 205h2v1h-2zM497 206h1v1h-1zM1031 206h2v1h-2zM498 207h1v1h-1zM1029 207h2v1h-2zM499 208h2v1h-2zM1027 208h2v1h-2zM501 209h1v1h-1zM1025 209h2v1h-2zM502 210h1v1h-1zM1022 210h3v1h-3zM503 211h1v1h-1zM1020 211h2v1h-2zM503 212h1v1h-1zM1017 212h3v1h-3zM504 213h1v1h-1zM1014 213h3v1h-3zM505 214h1v1h-1zM1011 214h3v1h-3zM506 215h1v1h-1zM1008 215h3v1h-3zM506 216h1v1h-1zM1005 216h3v1h-3zM507 217h1v1h-1zM1003 217h2v1h-2zM508 218h1v1h-1zM1000 218h3v1h-3zM509 219h1v1h-1zM997 219h3v1h-3zM509 220h1v1h-1zM995 220h2v1h-2zM510 221h1v1h-1zM993 221h2v1h-2zM511 222h1v1h-1zM991 222h2v1h-2zM512 223h1v1h-1zM989 223h2v1h-2zM513 224h1v1h-1zM986 224h3v1h-3zM514 225h1v1h-1zM984 225h2v1h-2zM515 226h1v1h-1zM982 226h2v1h-2zM516 227h1v1h-1zM980 227h2v1h-2zM517 228h1v1h-1zM977 228h3v1h-3zM518 229h1v1h-1zM973 229h4v1h-4zM519 230h1v1h-1zM969 230h4v1h-4zM520 231h1v1h-1zM965 231h4v1h-4zM521 232h1v1h-1zM961 232h4v1h-4zM522 233h1v1h-1zM958 233h3v1h-3zM522 234h1v1h-1zM953 234h5v1h-5zM523 235h1v1h-1zM950 235h3v1h-3zM524 236h1v1h-1zM945 236h5v1h-5zM525 237h1v1h-1zM942 237h3v1h-3zM526 238h1v1h-1zM938 238h4v1h-4zM526 239h1v1h-1zM936 239h2v1h-2zM527 240h1v1h-1zM933 240h3v1h-3zM528 241h1v1h-1zM928 241h5v1h-5zM529 242h1v1h-1zM919 242h9v1h-9zM530 243h1v1h-1zM912 243h7v1h-7zM530 244h1v1h-1zM903 244h9v1h-9zM531 245h1v1h-1zM896 245h7v1h-7zM532 246h1v1h-1zM889 246h7v1h-7zM533 247h1v1h-1zM886 247h3v1h-3zM534 248h1v1h-1zM882 248h4v1h-4zM534 249h1v1h-1zM880 249h2v1h-2zM535 250h1v1h-1zM877 250h3v1h-3zM536 251h1v1h-1zM875 251h2v1h-2zM537 252h1v1h-1zM872 252h3v1h-3zM538 253h1v1h-1zM871 253h1v1h-1zM539 254h1v1h-1zM868 254h3v1h-3zM540 255h1v1h-1zM867 255h1v1h-1zM541 256h1v1h-1zM865 256h2v1h-2zM542 257h1v1h-1zM864 257h1v1h-1zM543 258h1v1h-1zM862 258h2v1h-2zM544 259h1v1h-1zM860 259h2v1h-2zM545 260h1v1h-1zM859 260h1v1h-1zM546 261h1v1h-1zM858 261h1v1h-1zM547 262h1v1h-1zM856 262h2v1h-2zM548 263h1v1h-1zM855 263h1v1h-1zM549 264h1v1h-1zM853 264h2v1h-2zM550 265h1v1h-1zM852 265h1v1h-1zM551 266h1v1h-1zM851 266h1v1h-1zM552 267h1v1h-1zM849 267h2v1h-2zM553 268h2v1h-2zM847 268h2v1h-2zM555 269h1v1h-1zM846 269h1v1h-1zM556 270h1v1h-1zM844 270h2v1h-2zM557 271h1v1h-1zM842 271h2v1h-2zM558 272h1v1h-1zM839 272h3v1h-3zM559 273h2v1h-2zM837 273h2v1h-2zM561 274h1v1h-1zM834 274h3v1h-3zM562 275h1v1h-1zM831 275h3v1h-3zM563 276h1v1h-1zM828 276h3v1h-3zM564 277h2v1h-2zM826 277h2v1h-2zM566 278h2v1h-2zM823 278h3v1h-3zM568 279h2v1h-2zM820 279h3v1h-3zM570 280h2v1h-2zM817 280h3v1h-3zM572 281h2v1h-2zM813 281h4v1h-4zM574 282h2v1h-2zM809 282h4v1h-4zM576 283h2v1h-2zM806 283h3v1h-3zM578 284h2v1h-2zM804 284h2v1h-2zM580 285h1v1h-1zM802 285h2v1h-2zM581 286h2v1h-2zM800 286h2v1h-2zM583 287h2v1h-2zM798 287h2v1h-2zM585 288h2v1h-2zM797 288h1v1h-1zM587 289h2v1h-2zM796 289h1v1h-1zM589 290h2v1h-2zM794 290h2v1h-2zM591 291h2v1h-2zM793 291h1v1h-1zM593 292h2v1h-2zM791 292h2v1h-2zM595 293h2v1h-2zM790 293h1v1h-1zM597 294h1v1h-1zM788 294h2v1h-2zM598 295h2v1h-2zM787 295h1v1h-1zM600 296h2v1h-2zM785 296h2v1h-2zM602 297h2v1h-2zM784 297h1v1h-1zM604 298h2v1h-2zM783 298h1v1h-1zM606 299h1v1h-1zM781 299h2v1h-2zM607 300h2v1h-2zM780 300h1v1h-1zM609 301h2v1h-2zM779 301h1v1h-1zM611 302h2v1h-2zM778 302h1v1h-1zM613 303h1v1h-1zM776 303h2v1h-2zM614 304h2v1h-2zM775 304h1v1h-1zM616 305h1v1h-1zM774 305h1v1h-1zM617 306h1v1h-1zM773 306h1v1h-1zM618 307h2v1h-2zM772 307h1v1h-1zM620 308h1v1h-1zM770 308h2v1h-2zM621 309h2v1h-2zM769 309h1v1h-1zM623 310h1v1h-1zM768 310h1v1h-1zM624 311h2v1h-2zM767 311h1v1h-1zM626 312h1v1h-1zM765 312h2v1h-2zM627 313h1v1h-1zM764 313h1v1h-1zM628 314h2v1h-2zM763 314h1v1h-1zM630 315h1v1h-1zM761 315h2v1h-2zM631 316h3v1h-3zM760 316h1v1h-1zM634 317h1v1h-1zM758 317h2v1h-2zM635 318h3v1h-3zM757 318h1v1h-1zM638 319h1v1h-1zM756 319h1v1h-1zM639 320h2v1h-2zM754 320h2v1h-2zM641 321h2v1h-2zM753 321h1v1h-1zM643 322h2v1h-2zM751 322h2v1h-2zM645 323h2v1h-2zM749 323h2v1h-2zM647 324h2v1h-2zM748 324h1v1h-1zM649 325h2v1h-2zM746 325h2v1h-2zM651 326h2v1h-2zM745 326h1v1h-1zM653 327h3v1h-3zM743 327h2v1h-2zM656 328h3v1h-3zM741 328h2v1h-2zM659 329h2v1h-2zM739 329h2v1h-2zM661 330h3v1h-3zM737 330h2v1h-2zM664 331h3v1h-3zM735 331h2v1h-2zM667 332h2v1h-2zM732 332h3v1h-3zM669 333h2v1h-2zM729 333h3v1h-3zM671 334h3v1h-3zM725 334h4v1h-4zM674 335h2v1h-2zM722 335h3v1h-3zM676 336h2v1h-2zM719 336h3v1h-3zM678 337h2v1h-2zM716 337h3v1h-3zM680 338h15v1h-15zM713 338h3v1h-3zM695 339h2v1h-2zM710 339h3v1h-3zM697 340h13v1h-13z"/>
<path class="c" fill="#ff0000" d="M6 81h13v1h-13zM4 82h2v1h-2zM19 82h4v1h-4zM3 83h1v1h-1zM23 83h4v1h-4zM27 84h4v1h-4zM31 85h11v1h-11zM42 86h11v1h-11zM53 87h5v1h-5zM58 88h6v1h-6zM64 89h4v1h-4zM68 90h4v1h-4zM72 91h3v1h-3zM75 92h3v1h-3zM78 93h4v1h-4zM1130 93h5v1h-5zM82 94h3v1h-3zM1127 94h3v1h-3zM1135 94h7v1h-7zM85 95h4v1h-4zM1125 95h2v1h-2zM1142 95h3v1h-3zM89 96h3v1h-3zM1123 96h2v1h-2zM1145 96h5v1h-5zM92 97h3v1h-3zM1121 97h2v1h-2zM1150 97h3v1h-3zM95 98h4v1h-4zM1119 98h2v1h-2zM1153 98h13v1h-13zM99 99h4v1h-4zM1118 99h1v1h-1zM1166 99h3v1h-3zM1258 99h2v1h-2zM103 100h4v1h-4zM1116 100h2v1h-2zM1169 100h5v1h-5zM1253 100h5v1h-5zM107 101h4v1h-4zM1114 101h2v1h-2zM1174 101h3v1h-3zM1248 101h5v1h-5zM111 102h4v1h-4zM1111 102h3v1h-3zM1177 102h4v1h-4zM1241 102h7v1h-7zM115 103h4v1h-4zM1109 103h2v1h-2zM1181 103h2v1h-2zM1238 103h3v1h-3zM119 104h3v1h-3zM1106 104h3v1h-3zM1183 104h3v1h-3zM1233 104h5v1h-5zM122 105h4v1h-4zM1105 105h1v1h-1zM1186 105h3v1h-3zM1230 105h3v1h-3zM126 106h5v1h-5zM1102 106h3v1h-3zM1189 106h3v1h-3zM1225 106h5v1h-5zM131 107h11v1h-11zM1101 107h1v1h-1zM1192 107h2v1h-2zM1222 107h3v1h-3zM142 108h10v1h-10zM1099 108h2v1h-2zM1194 108h28v1h-28zM152 109h2v1h-2zM1098 109h1v1h-1zM154 110h3v1h-3zM1097 110h1v1h-1zM157 111h2v1h-2zM1096 111h1v1h-1zM159 112h2v1h-2zM1094 112h2v1h-2zM161 113h2v1h-2zM1093 113h1v1h-1zM163 114h2v1h-2zM1092 114h1v1h-1zM165 115h2v1h-2zM1091 115h1v1h-1zM167 116h3v1h-3zM1089 116h2v1h-2zM170 117h3v1h-3zM1088 117h1v1h-1zM173 118h3v1h-3zM1086 118h2v1h-2zM176 119h2v1h-2zM1084 119h2v1h-2zM178 120h2v1h-2zM1083 120h1v1h-1zM180 121h1v1h-1zM1082 121h1v1h-1zM181 122h2v1h-2zM1081 122h1v1h-1zM183 123h1v1h-1zM1081 123h1v1h-1zM184 124h2v1h-2zM1080 124h1v1h-1zM186 125h2v1h-2zM1079 125h1v1h-1zM188 126h2v1h-2zM1078 126h1v1h-1zM190 127h2v1h-2zM1077 127h1v1h-1zM192 128h1v1h-1zM1077 128h1v1h-1zM193 129h2v1h-2zM1076 129h1v1h-1zM195 130h2v1h-2zM1075 130h1v1h-1zM197 131h1v1h-1zM1074 131h1v1h-1zM198 132h2v1h-2zM1073 132h1v1h-1zM200 133h2v1h-2zM1072 133h1v1h-1zM202 134h2v1h-2zM1072 134h1v1h-1zM204 135h3v1h-3zM1071 135h1v1h-1zM207 136h2v1h-2zM1070 136h1v1h-1zM209 137h3v1h-3zM1069 137h1v1h-1zM212 138h3v1h-3zM1068 138h1v1h-1zM215 139h3v1h-3zM1068 139h1v1h-1zM218 140h3v1h-3zM1067 140h1v1h-1zM221 141h2v1h-2zM1066 141h1v1h-1zM223 142h3v1h-3zM1065 142h1v1h-1zM226 143h3v1h-3zM1064 143h1v1h-1zM229 144h3v1h-3zM1063 144h1v1h-1zM232 145h2v1h-2zM1062 145h1v1h-1zM234 146h3v1h-3zM1061 146h1v1h-1zM237 147h1v1h-1zM1060 147h1v1h-1zM238 148h3v1h-3zM1060 148h1v1h-1zM241 149h1v1h-1zM1059 149h1v1h-1zM242 150h3v1h-3zM1058 150h1v1h-1zM245 151h3v1h-3zM1057 151h1v1h-1zM248 152h3v1h-3zM1056 152h1v1h-1zM251 153h5v1h-5zM1055 153h1v1h-1zM256 154h9v1h-9zM1054 154h1v1h-1zM265 155h11v1h-11zM1053 155h1v1h-1zM276 156h42v1h-42zM1052 156h1v1h-1zM318 157h4v1h-4zM1051 157h1v1h-1zM322 158h4v1h-4zM1050 158h1v1h-1zM326 159h4v1h-4zM1049 159h1v1h-1zM330 160h4v1h-4zM1049 160h1v1h-1zM334 161h4v1h-4zM1048 161h1v1h-1zM338 162h4v1h-4zM1047 162h1v1h-1zM342 163h4v1h-4zM1046 163h1v1h-1zM346 164h4v1h-4zM1045 164h1v1h-1zM350 165h3v1h-3zM1044 165h1v1h-1zM353 166h4v1h-4zM1043 166h1v1h-1zM357 167h3v1h-3zM1042 167h1v1h-1zM360 168h2v1h-2zM1041 168h1v1h-1zM362 169h3v1h-3zM1040 169h1v1h-1zM365 170h3v1h-3zM1039 170h1v1h-1zM368 171h2v1h-2zM1038 171h1v1h-1zM370 172h2v1h-2zM1037 172h1v1h-1zM372 173h2v1h-2zM1036 173h1v1h-1zM374 174h1v1h-1zM1035 174h1v1h-1zM375 175h1v1h-1zM1034 175h1v1h-1zM376 176h2v1h-2zM1033 176h1v1h-1zM378 177h1v1h-1zM1032 177h1v1h-1zM379 178h1v1h-1zM1031 178h1v1h-1zM380 179h2v1h-2zM1030 179h1v1h-1zM382 180h1v1h-1zM1029 180h1v1h-1zM383 181h2v1h-2zM1028 181h1v1h-1zM385 182h2v1h-2zM1028 182h1v1h-1zM387 183h2v1h-2zM1027 183h1v1h-1zM389 184h2v1h-2zM1026 184h1v1h-1zM391 185h2v1h-2zM1025 185h1v1h-1zM393 186h2v1h-2zM1024 186h1v1h-1zM395 187h4v1h-4zM1024 187h1v1h-1zM399 188h6v1h-6zM1023 188h1v1h-1zM405 189h2v1h-2zM1022 189h1v1h-1zM407 190h3v1h-3zM1021 190h1v1h-1zM410 191h3v1h-3zM1020 191h1v1h-1zM413 192h5v1h-5zM1019 192h1v1h-1zM418 193h5v1h-5zM440 193h4v1h-4zM1018 193h1v1h-1zM423 194h17v1h-17zM444 194h3v1h-3zM1017 194h1v1h-1zM447 195h1v1h-1zM1016 195h1v1h-1zM448 196h3v1h-3zM1015 196h1v1h-1zM451 197h4v1h-4zM1014 197h1v1h-1zM455 198h5v1h-5zM1013 198h1v1h-1zM460 199h1v1h-1zM1012 199h1v1h-1zM461 200h1v1h-1zM1011 200h1v1h-1zM462 201h1v1h-1zM1010 201h1v1h-1zM463 202h1v1h-1zM1008 202h2v1h-2zM464 203h1v1h-1zM1007 203h1v1h-1zM465 204h1v1h-1zM1006 204h1v1h-1zM466 205h1v1h-1zM1005 205h1v1h-1zM467 206h1v1h-1zM1003 206h2v1h-2zM468 207h1v1h-1zM1001 207h2v1h-2zM469 208h1v1h-1zM999 208h2v1h-2zM470 209h1v1h-1zM997 209h2v1h-2zM471 210h1v1h-1zM995 210h2v1h-2zM472 211h1v1h-1zM993 211h2v1h-2zM473 212h1v1h-1zM991 212h2v1h-2zM474 213h1v1h-1zM989 213h2v1h-2zM475 214h1v1h-1zM986 214h3v1h-3zM476 215h1v1h-1zM982 215h4v1h-4zM477 216h1v1h-1zM978 216h4v1h-4zM478 217h1v1h-1zM970 217h8v1h-8zM478 218h1v1h-1zM959 218h11v1h-11zM479 219h1v1h-1zM954 219h5v1h-5zM480 220h1v1h-1zM949 220h5v1h-5zM480 221h1v1h-1zM946 221h3v1h-3zM481 222h1v1h-1zM941 222h5v1h-5zM481 223h1v1h-1zM939 223h2v1h-2zM482 224h1v1h-1zM936 224h3v1h-3zM483 225h2v1h-2zM935 225h1v1h-1zM485 226h1v1h-1zM932 226h3v1h-3zM486 227h1v1h-1zM882 227h13v1h-13zM931 227h1v1h-1zM487 228h1v1h-1zM879 228h3v1h-3zM895 228h6v1h-6zM929 228h2v1h-2zM488 229h1v1h-1zM877 229h2v1h-2zM901 229h2v1h-2zM928 229h1v1h-1zM489 230h1v1h-1zM871 230h6v1h-6zM903 230h3v1h-3zM926 230h2v1h-2zM489 231h1v1h-1zM866 231h5v1h-5zM906 231h3v1h-3zM924 231h2v1h-2zM490 232h1v1h-1zM863 232h3v1h-3zM909 232h5v1h-5zM919 232h5v1h-5zM491 233h1v1h-1zM861 233h2v1h-2zM914 233h5v1h-5zM492 234h1v1h-1zM858 234h3v1h-3zM493 235h1v1h-1zM856 235h2v1h-2zM494 236h1v1h-1zM853 236h3v1h-3zM495 237h1v1h-1zM851 237h2v1h-2zM496 238h1v1h-1zM850 238h1v1h-1zM496 239h1v1h-1zM849 239h1v1h-1zM497 240h1v1h-1zM847 240h2v1h-2zM498 241h1v1h-1zM846 241h1v1h-1zM499 242h1v1h-1zM845 242h1v1h-1zM500 243h1v1h-1zM844 243h1v1h-1zM501 244h1v1h-1zM841 244h3v1h-3zM501 245h1v1h-1zM838 245h3v1h-3zM502 246h1v1h-1zM831 246h7v1h-7zM502 247h1v1h-1zM824 247h7v1h-7zM503 248h1v1h-1zM818 248h6v1h-6zM503 249h1v1h-1zM816 249h2v1h-2zM504 250h1v1h-1zM813 250h3v1h-3zM504 251h1v1h-1zM810 251h3v1h-3zM505 252h1v1h-1zM805 252h5v1h-5zM505 253h1v1h-1zM802 253h3v1h-3zM506 254h1v1h-1zM797 254h5v1h-5zM506 255h1v1h-1zM794 255h3v1h-3zM507 256h1v1h-1zM791 256h3v1h-3zM507 257h1v1h-1zM788 257h3v1h-3zM508 258h1v1h-1zM784 258h4v1h-4zM508 259h1v1h-1zM781 259h3v1h-3zM509 260h1v1h-1zM778 260h3v1h-3zM509 261h1v1h-1zM776 261h2v1h-2zM510 262h1v1h-1zM773 262h3v1h-3zM510 263h1v1h-1zM770 263h3v1h-3zM511 264h1v1h-1zM767 264h3v1h-3zM511 265h1v1h-1zM765 265h2v1h-2zM512 266h1v1h-1zM762 266h3v1h-3zM512 267h1v1h-1zM760 267h2v1h-2zM513 268h1v1h-1zM757 268h3v1h-3zM513 269h1v1h-1zM754 269h3v1h-3zM514 270h1v1h-1zM751 270h3v1h-3zM514 271h1v1h-1zM749 271h2v1h-2zM515 272h1v1h-1zM747 272h2v1h-2zM515 273h1v1h-1zM745 273h2v1h-2zM516 274h1v1h-1zM744 274h1v1h-1zM516 275h1v1h-1zM742 275h2v1h-2zM517 276h1v1h-1zM741 276h1v1h-1zM517 277h1v1h-1zM740 277h1v1h-1zM518 278h1v1h-1zM738 278h2v1h-2zM518 279h1v1h-1zM737 279h1v1h-1zM519 280h1v1h-1zM735 280h2v1h-2zM519 281h1v1h-1zM734 281h1v1h-1zM520 282h1v1h-1zM732 282h2v1h-2zM520 283h1v1h-1zM731 283h1v1h-1zM521 284h1v1h-1zM730 284h1v1h-1zM521 285h1v1h-1zM729 285h1v1h-1zM522 286h1v1h-1zM728 286h1v1h-1zM522 287h1v1h-1zM727 287h1v1h-1zM523 288h1v1h-1zM726 288h1v1h-1zM523 289h1v1h-1zM725 289h1v1h-1zM524 290h1v1h-1zM724 290h1v1h-1zM524 291h1v1h-1zM723 291h1v1h-1zM525 292h1v1h-1zM722 292h1v1h-1zM525 293h1v1h-1zM721 293h1v1h-1zM526 294h1v1h-1zM720 294h1v1h-1zM526 295h1v1h-1zM719 295h1v1h-1zM527 296h1v1h-1zM717 296h2v1h-2zM527 297h1v1h-1zM716 297h1v1h-1zM528 298h1v1h-1zM715 298h1v1h-1zM528 299h1v1h-1zM714 299h1v1h-1zM529 300h1v1h-1zM712 300h2v1h-2zM529 301h1v1h-1zM709 301h3v1h-3zM530 302h1v1h-1zM706 302h3v1h-3zM530 303h1v1h-1zM703 303h3v1h-3zM530 304h1v1h-1zM701 304h2v1h-2zM531 305h1v1h-1zM700 305h1v1h-1zM531 306h1v1h-1zM699 306h1v1h-1zM532 307h1v1h-1zM698 307h1v1h-1zM532 308h1v1h-1zM697 308h1v1h-1zM533 309h1v1h-1zM696 309h1v1h-1zM533 310h1v1h-1zM695 310h1v1h-1zM533 311h1v1h-1zM693 311h2v1h-2zM534 312h1v1h-1zM691 312h2v1h-2zM534 313h1v1h-1zM689 313h2v1h-2zM535 314h1v1h-1zM688 314h1v1h-1zM535 315h1v1h-1zM686 315h2v1h-2zM536 316h1v1h-1zM684 316h2v1h-2zM536 317h1v1h-1zM683 317h1v1h-1zM537 318h1v1h-1zM681 318h2v1h-2zM537 319h1v1h-1zM679 319h2v1h-2zM537 320h1v1h-1zM677 320h2v1h-2zM538 321h1v1h-1zM676 321h1v1h-1zM538 322h1v1h-1zM675 322h1v1h-1zM539 323h1v1h-1zM674 323h1v1h-1zM539 324h1v1h-1zM673 324h1v1h-1zM540 325h1v1h-1zM672 325h1v1h-1zM540 326h1v1h-1zM670 326h2v1h-2zM540 327h1v1h-1zM669 327h1v1h-1zM541 328h1v1h-1zM668 328h1v1h-1zM542 329h1v1h-1zM667 329h1v1h-1zM542 330h1v1h-1zM666 330h1v1h-1zM542 331h1v1h-1zM665 331h1v1h-1zM543 332h1v1h-1zM664 332h1v1h-1zM544 333h1v1h-1zM663 333h1v1h-1zM544 334h1v1h-1zM662 334h1v1h-1zM544 335h1v1h-1zM661 335h1v1h-1zM545 336h1v1h-1zM660 336h1v1h-1zM546 337h1v1h-1zM659 337h1v1h-1zM546 338h1v1h-1zM658 338h1v1h-1zM546 339h1v1h-1zM658 339h1v1h-1zM547 340h1v1h-1zM657 340h1v1h-1zM548 341h1v1h-1zM656 341h1v1h-1zM548 342h1v1h-1zM655 342h1v1h-1zM548 343h1v1h-1zM654 343h1v1h-1zM549 344h1v1h-1zM653 344h1v1h-1zM550 345h1v1h-1zM652 345h1v1h-1zM550 346h1v1h-1zM651 346h1v1h-1zM551 347h1v1h-1zM650 347h1v1h-1zM551 348h1v1h-1zM649 348h1v1h-1zM552 349h1v1h-1zM648 349h1v1h-1zM552 350h1v1h-1zM647 350h1v1h-1zM553 351h1v1h-1zM646 351h1v1h-1zM554 352h1v1h-1zM646 352h1v1h-1zM554 353h1v1h-1zM645 353h1v1h-1zM555 354h1v1h-1zM644 354h1v1h-1zM556 355h1v1h-1zM643 355h1v1h-1zM556 356h1v1h-1zM642 356h1v1h-1zM557 357h1v1h-1zM641 357h1v1h-1zM558 358h1v1h-1zM640 358h1v1h-1zM558 359h1v1h-1zM639 359h1v1h-1zM559 360h1v1h-1zM638 360h1v1h-1zM559 361h1v1h-1zM637 361h1v1h-1zM560 362h1v1h-1zM636 362h1v1h-1zM561 363h1v1h-1zM635 363h1v1h-1zM562 364h1v1h-1zM634 364h1v1h-1zM562 365h1v1h-1zM633 365h1v1h-1zM563 366h1v1h-1zM631 366h2v1h-2zM564 367h1v1h-1zM630 367h1v1h-1zM565 368h1v1h-1zM628 368h2v1h-2zM566 369h1v1h-1zM626 369h2v1h-2zM566 370h1v1h-1zM623 370h3v1h-3zM567 371h1v1h-1zM621 371h2v1h-2zM568 372h1v1h-1zM618 372h3v1h-3zM569 373h2v1h-2zM616 373h2v1h-2zM571 374h2v1h-2zM613 374h3v1h-3zM573 375h4v1h-4zM610 375h3v1h-3zM577 376h8v1h-8zM607 376h3v1h-3zM585 377h10v1h-10zM604 377h3v1h-3zM595 378h9v1h-9z"/>
<path class="c" fill="#ffa500" d="M3 72h1v1h-1zM4 73h2v1h-2zM6 74h2v1h-2zM8 75h1v1h-1zM1082 75h2v1h-2zM9 76h2v1h-2zM1079 76h3v1h-3zM1084 76h2v1h-2zM11 77h1v1h-1zM1077 77h2v1h-2zM1086 77h1v1h-1zM12 78h1v1h-1zM1073 78h4v1h-4zM1087 78h1v1h-1zM13 79h1v1h-1zM1070 79h3v1h-3zM1088 79h1v1h-1zM13 80h1v1h-1zM1067 80h3v1h-3zM1089 80h2v1h-2zM14 81h1v1h-1zM1066 81h1v1h-1zM1091 81h1v1h-1zM15 82h1v1h-1zM1064 82h2v1h-2zM1092 82h1v1h-1zM16 83h1v1h-1zM1063 83h1v1h-1zM1093 83h1v1h-1zM17 84h1v1h-1zM1061 84h2v1h-2zM1094 84h2v1h-2zM17 85h1v1h-1zM1060 85h1v1h-1zM1096 85h1v1h-1zM18 86h1v1h-1zM1059 86h1v1h-1zM1097 86h1v1h-1zM19 87h1v1h-1zM1058 87h1v1h-1zM1098 87h1v1h-1zM20 88h1v1h-1zM1057 88h1v1h-1zM1099 88h1v1h-1zM1259 88h1v1h-1zM21 89h1v1h-1zM1057 89h1v1h-1zM1100 89h1v1h-1zM1257 89h2v1h-2zM22 90h1v1h-1zM1056 90h1v1h-1zM1101 90h1v1h-1zM1255 90h2v1h-2zM23 91h1v1h-1zM1055 91h1v1h-1zM1102 91h1v1h-1zM1254 91h1v1h-1zM24 92h1v1h-1zM1054 92h1v1h-1zM1103 92h1v1h-1zM1252 92h2v1h-2zM25 93h1v1h-1zM1053 93h1v1h-1zM1104 93h1v1h-1zM1251 93h1v1h-1zM26 94h1v1h-1zM1053 94h1v1h-1zM1105 94h1v1h-1zM1248 94h3v1h-3zM27 95h1v1h-1zM1052 95h1v1h-1zM1106 95h1v1h-1zM1247 95h1v1h-1zM28 96h2v1h-2zM1051 96h1v1h-1zM1107 96h1v1h-1zM1244 96h3v1h-3zM30 97h1v1h-1zM1051 97h1v1h-1zM1108 97h1v1h-1zM1243 97h1v1h-1zM31 98h2v1h-2zM1050 98h1v1h-1zM1109 98h1v1h-1zM1241 98h2v1h-2zM33 99h2v1h-2zM72 99h11v1h-11zM1050 99h1v1h-1zM1110 99h1v1h-1zM1240 99h1v1h-1zM35 100h1v1h-1zM66 100h6v1h-6zM83 100h11v1h-11zM1049 100h1v1h-1zM1111 100h1v1h-1zM1238 100h2v1h-2zM36 101h2v1h-2zM64 101h2v1h-2zM94 101h3v1h-3zM1049 101h1v1h-1zM1112 101h1v1h-1zM1236 101h2v1h-2zM38 102h2v1h-2zM61 102h3v1h-3zM97 102h5v1h-5zM1048 102h1v1h-1zM1113 102h1v1h-1zM1183 102h15v1h-15zM1234 102h2v1h-2zM40 103h1v1h-1zM58 103h3v1h-3zM102 103h3v1h-3zM1048 103h1v1h-1zM1114 103h1v1h-1zM1178 103h5v1h-5zM1198 103h3v1h-3zM1233 103h1v1h-1zM41 104h2v1h-2zM55 104h3v1h-3zM105 104h4v1h-4zM1048 104h1v1h-1zM1115 104h1v1h-1zM1173 104h5v1h-5zM1201 104h3v1h-3zM1230 104h3v1h-3zM43 105h4v1h-4zM52 105h3v1h-3zM109 105h2v1h-2zM1047 105h1v1h-1zM1116 105h1v1h-1zM1171 105h2v1h-2zM1204 105h2v1h-2zM1229 105h1v1h-1zM47 106h5v1h-5zM111 106h3v1h-3zM1047 106h1v1h-1zM1117 106h2v1h-2zM1168 106h3v1h-3zM1206 106h2v1h-2zM1225 106h4v1h-4zM114 107h3v1h-3zM1046 107h1v1h-1zM1119 107h1v1h-1zM1167 107h1v1h-1zM1208 107h1v1h-1zM1222 107h3v1h-3zM117 108h3v1h-3zM1046 108h1v1h-1zM1120 108h2v1h-2zM1164 108h3v1h-3zM1209 108h2v1h-2zM1215 108h7v1h-7zM120 109h2v1h-2zM1046 109h1v1h-1zM1122 109h1v1h-1zM1140 109h11v1h-11zM1160 109h4v1h-4zM1211 109h4v1h-4zM122 110h3v1h-3zM1045 110h1v1h-1zM1123 110h17v1h-17zM1151 110h9v1h-9zM125 111h2v1h-2zM1045 111h1v1h-1zM127 112h3v1h-3zM1044 112h1v1h-1zM130 113h3v1h-3zM1044 113h1v1h-1zM133 114h5v1h-5zM1043 114h1v1h-1zM138 115h3v1h-3zM1043 115h1v1h-1zM141 116h3v1h-3zM1042 116h1v1h-1zM144 117h2v1h-2zM1042 117h1v1h-1zM146 118h2v1h-2zM1041 118h1v1h-1zM148 119h1v1h-1zM1041 119h1v1h-1zM149 120h2v1h-2zM1040 120h1v1h-1zM151 121h1v1h-1zM1040 121h1v1h-1zM152 122h2v1h-2zM1039 122h1v1h-1zM154 123h1v1h-1zM1039 123h1v1h-1zM155 124h1v1h-1zM1038 124h1v1h-1zM156 125h2v1h-2zM1038 125h1v1h-1zM158 126h2v1h-2zM1037 126h1v1h-1zM160 127h1v1h-1zM1037 127h1v1h-1zM161 128h2v1h-2zM1036 128h1v1h-1zM163 129h1v1h-1zM1036 129h1v1h-1zM164 130h1v1h-1zM1035 130h1v1h-1zM165 131h1v1h-1zM1035 131h1v1h-1zM166 132h2v1h-2zM1034 132h1v1h-1zM168 133h1v1h-1zM1034 133h1v1h-1zM169 134h1v1h-1zM1033 134h1v1h-1zM170 135h1v1h-1zM1033 135h1v1h-1zM171 136h1v1h-1zM1032 136h1v1h-1zM172 137h1v1h-1zM1032 137h1v1h-1zM173 138h1v1h-1zM1031 138h1v1h-1zM174 139h1v1h-1zM1031 139h1v1h-1zM175 140h1v1h-1zM1031 140h1v1h-1zM176 141h1v1h-1zM1030 141h1v1h-1zM177 142h1v1h-1zM1030 142h1v1h-1zM178 143h1v1h-1zM1029 143h1v1h-1zM179 144h1v1h-1zM1029 144h1v1h-1zM180 145h1v1h-1zM1028 145h1v1h-1zM181 146h1v1h-1zM1028 146h1v1h-1zM182 147h1v1h-1zM1027 147h1v1h-1zM183 148h2v1h-2zM1027 148h1v1h-1zM185 149h1v1h-1zM1027 149h1v1h-1zM186 150h1v1h-1zM1026 150h1v1h-1zM187 151h1v1h-1zM1026 151h1v1h-1zM188 152h3v1h-3zM292 152h6v1h-6zM1025 152h1v1h-1zM191 153h1v1h-1zM287 153h5v1h-5zM298 153h3v1h-3zM1025 153h1v1h-1zM192 154h3v1h-3zM225 154h13v1h-13zM281 154h6v1h-6zM301 154h5v1h-5zM1025 154h1v1h-1zM195 155h2v1h-2zM222 155h3v1h-3zM238 155h3v1h-3zM278 155h3v1h-3zM306 155h2v1h-2zM1024 155h1v1h-1zM197 156h3v1h-3zM218 156h4v1h-4zM241 156h5v1h-5zM274 156h4v1h-4zM308 156h3v1h-3zM1024 156h1v1h-1zM200 157h2v1h-2zM216 157h2v1h-2zM246 157h4v1h-4zM271 157h3v1h-3zM311 157h1v1h-1zM1024 157h1v1h-1zM202 158h6v1h-6zM213 158h3v1h-3zM250 158h5v1h-5zM267 158h4v1h-4zM312 158h3v1h-3zM1023 158h1v1h-1zM208 159h5v1h-5zM255 159h3v1h-3zM263 159h4v1h-4zM315 159h1v1h-1zM1023 159h1v1h-1zM258 160h5v1h-5zM316 160h2v1h-2zM1022 160h1v1h-1zM318 161h1v1h-1zM1022 161h1v1h-1zM319 162h2v1h-2zM1022 162h1v1h-1zM321 163h2v1h-2zM1021 163h1v1h-1zM323 164h1v1h-1zM1021 164h1v1h-1zM324 165h1v1h-1zM1021 165h1v1h-1zM325 166h2v1h-2zM1020 166h1v1h-1zM327 167h1v1h-1zM1020 167h1v1h-1zM328 168h2v1h-2zM1019 168h1v1h-1zM330 169h1v1h-1zM1019 169h1v1h-1zM331 170h1v1h-1zM1018 170h1v1h-1zM332 171h2v1h-2zM1017 171h1v1h-1zM334 172h2v1h-2zM1016 172h1v1h-1zM336 173h1v1h-1zM1015 173h1v1h-1zM337 174h2v1h-2zM1015 174h1v1h-1zM339 175h1v1h-1zM1014 175h1v1h-1zM340 176h2v1h-2zM1013 176h1v1h-1zM342 177h1v1h-1zM1012 177h1v1h-1zM343 178h2v1h-2zM1011 178h1v1h-1zM345 179h2v1h-2zM1010 179h1v1h-1zM347 180h2v1h-2zM1008 180h2v1h-2zM349 181h2v1h-2zM442 181h2v1h-2zM1007 181h1v1h-1zM351 182h3v1h-3zM437 182h5v1h-5zM444 182h1v1h-1zM1005 182h2v1h-2zM354 183h2v1h-2zM435 183h2v1h-2zM445 183h1v1h-1zM1004 183h1v1h-1zM356 184h3v1h-3zM434 184h1v1h-1zM446 184h1v1h-1zM1003 184h1v1h-1zM359 185h1v1h-1zM433 185h1v1h-1zM447 185h1v1h-1zM1002 185h1v1h-1zM360 186h3v1h-3zM432 186h1v1h-1zM447 186h1v1h-1zM1001 186h1v1h-1zM363 187h1v1h-1zM431 187h1v1h-1zM448 187h1v1h-1zM1000 187h1v1h-1zM364 188h3v1h-3zM430 188h1v1h-1zM449 188h1v1h-1zM998 188h2v1h-2zM367 189h1v1h-1zM429 189h1v1h-1zM450 189h1v1h-1zM997 189h1v1h-1zM368 190h3v1h-3zM428 190h1v1h-1zM451 190h1v1h-1zM996 190h1v1h-1zM371 191h1v1h-1zM427 191h1v1h-1zM452 191h2v1h-2zM995 191h1v1h-1zM372 192h1v1h-1zM426 192h1v1h-1zM454 192h2v1h-2zM994 192h1v1h-1zM373 193h1v1h-1zM425 193h1v1h-1zM456 193h1v1h-1zM993 193h1v1h-1zM374 194h1v1h-1zM423 194h2v1h-2zM457 194h2v1h-2zM992 194h1v1h-1zM375 195h1v1h-1zM422 195h1v1h-1zM459 195h1v1h-1zM991 195h1v1h-1zM375 196h1v1h-1zM421 196h1v1h-1zM459 196h1v1h-1zM990 196h1v1h-1zM376 197h1v1h-1zM420 197h1v1h-1zM460 197h1v1h-1zM989 197h1v1h-1zM377 198h1v1h-1zM419 198h1v1h-1zM460 198h1v1h-1zM988 198h1v1h-1zM378 199h1v1h-1zM418 199h1v1h-1zM461 199h1v1h-1zM986 199h2v1h-2zM379 200h1v1h-1zM417 200h1v1h-1zM461 200h1v1h-1zM981 200h5v1h-5zM380 201h1v1h-1zM416 201h1v1h-1zM461 201h1v1h-1zM978 201h3v1h-3zM381 202h1v1h-1zM415 202h1v1h-1zM462 202h1v1h-1zM975 202h3v1h-3zM382 203h1v1h-1zM414 203h1v1h-1zM462 203h1v1h-1zM960 203h7v1h-7zM973 203h2v1h-2zM383 204h2v1h-2zM413 204h1v1h-1zM462 204h1v1h-1zM955 204h5v1h-5zM967 204h6v1h-6zM385 205h1v1h-1zM412 205h1v1h-1zM463 205h1v1h-1zM954 205h1v1h-1zM386 206h1v1h-1zM409 206h3v1h-3zM463 206h1v1h-1zM952 206h2v1h-2zM387 207h1v1h-1zM406 207h3v1h-3zM464 207h1v1h-1zM951 207h1v1h-1zM388 208h3v1h-3zM402 208h4v1h-4zM464 208h1v1h-1zM949 208h2v1h-2zM391 209h1v1h-1zM400 209h2v1h-2zM464 209h1v1h-1zM948 209h1v1h-1zM392 210h3v1h-3zM397 210h3v1h-3zM465 210h1v1h-1zM947 210h1v1h-1zM395 211h2v1h-2zM465 211h1v1h-1zM946 211h1v1h-1zM465 212h1v1h-1zM945 212h1v1h-1zM466 213h1v1h-1zM945 213h1v1h-1zM466 214h1v1h-1zM944 214h1v1h-1zM467 215h1v1h-1zM943 215h1v1h-1zM467 216h1v1h-1zM883 216h2v1h-2zM942 216h1v1h-1zM467 217h1v1h-1zM882 217h1v1h-1zM885 217h1v1h-1zM941 217h1v1h-1zM467 218h1v1h-1zM881 218h1v1h-1zM886 218h3v1h-3zM941 218h1v1h-1zM468 219h1v1h-1zM880 219h1v1h-1zM889 219h1v1h-1zM940 219h1v1h-1zM468 220h1v1h-1zM878 220h2v1h-2zM890 220h2v1h-2zM939 220h1v1h-1zM468 221h1v1h-1zM877 221h1v1h-1zM892 221h1v1h-1zM938 221h1v1h-1zM468 222h1v1h-1zM876 222h1v1h-1zM893 222h1v1h-1zM937 222h1v1h-1zM469 223h1v1h-1zM872 223h4v1h-4zM894 223h1v1h-1zM937 223h1v1h-1zM469 224h1v1h-1zM807 224h6v1h-6zM867 224h5v1h-5zM895 224h1v1h-1zM936 224h1v1h-1zM469 225h1v1h-1zM803 225h4v1h-4zM813 225h1v1h-1zM866 225h1v1h-1zM896 225h1v1h-1zM935 225h1v1h-1zM469 226h1v1h-1zM802 226h1v1h-1zM814 226h3v1h-3zM864 226h2v1h-2zM897 226h1v1h-1zM934 226h1v1h-1zM470 227h1v1h-1zM801 227h1v1h-1zM817 227h1v1h-1zM863 227h1v1h-1zM898 227h1v1h-1zM933 227h1v1h-1zM470 228h1v1h-1zM800 228h1v1h-1zM818 228h3v1h-3zM861 228h2v1h-2zM899 228h1v1h-1zM933 228h1v1h-1zM470 229h1v1h-1zM799 229h1v1h-1zM821 229h1v1h-1zM860 229h1v1h-1zM900 229h1v1h-1zM932 229h1v1h-1zM470 230h1v1h-1zM799 230h1v1h-1zM822 230h3v1h-3zM859 230h1v1h-1zM901 230h2v1h-2zM931 230h1v1h-1zM471 231h1v1h-1zM798 231h1v1h-1zM825 231h1v1h-1zM858 231h1v1h-1zM903 231h1v1h-1zM930 231h1v1h-1zM471 232h1v1h-1zM797 232h1v1h-1zM826 232h3v1h-3zM857 232h1v1h-1zM904 232h2v1h-2zM929 232h1v1h-1zM471 233h1v1h-1zM796 233h1v1h-1zM829 233h1v1h-1zM856 233h1v1h-1zM906 233h1v1h-1zM928 233h1v1h-1zM471 234h1v1h-1zM795 234h1v1h-1zM830 234h3v1h-3zM855 234h1v1h-1zM907 234h2v1h-2zM926 234h2v1h-2zM472 235h1v1h-1zM794 235h1v1h-1zM833 235h1v1h-1zM854 235h1v1h-1zM909 235h2v1h-2zM925 235h1v1h-1zM472 236h1v1h-1zM793 236h1v1h-1zM834 236h2v1h-2zM853 236h1v1h-1zM911 236h3v1h-3zM924 236h1v1h-1zM472 237h1v1h-1zM793 237h1v1h-1zM836 237h1v1h-1zM852 237h1v1h-1zM914 237h10v1h-10zM472 238h1v1h-1zM792 238h1v1h-1zM837 238h1v1h-1zM851 238h1v1h-1zM472 239h1v1h-1zM791 239h1v1h-1zM838 239h1v1h-1zM850 239h1v1h-1zM473 240h1v1h-1zM790 240h1v1h-1zM839 240h1v1h-1zM848 240h2v1h-2zM473 241h1v1h-1zM789 241h1v1h-1zM840 241h1v1h-1zM847 241h1v1h-1zM473 242h1v1h-1zM789 242h1v1h-1zM841 242h1v1h-1zM845 242h2v1h-2zM474 243h1v1h-1zM788 243h1v1h-1zM842 243h1v1h-1zM844 243h1v1h-1zM474 244h1v1h-1zM787 244h1v1h-1zM843 244h1v1h-1zM474 245h1v1h-1zM786 245h1v1h-1zM474 246h1v1h-1zM786 246h1v1h-1zM474 247h1v1h-1zM785 247h1v1h-1zM475 248h1v1h-1zM784 248h1v1h-1zM475 249h1v1h-1zM784 249h1v1h-1zM475 250h1v1h-1zM783 250h1v1h-1zM476 251h1v1h-1zM782 251h1v1h-1zM476 252h1v1h-1zM782 252h1v1h-1zM476 253h1v1h-1zM781 253h1v1h-1zM476 254h1v1h-1zM780 254h1v1h-1zM477 255h1v1h-1zM780 255h1v1h-1zM477 256h1v1h-1zM779 256h1v1h-1zM477 257h1v1h-1zM778 257h1v1h-1zM477 258h1v1h-1zM777 258h1v1h-1zM478 259h1v1h-1zM777 259h1v1h-1zM478 260h1v1h-1zM697 260h4v1h-4zM776 260h1v1h-1zM478 261h1v1h-1zM694 261h3v1h-3zM701 261h1v1h-1zM775 261h1v1h-1zM479 262h1v1h-1zM691 262h3v1h-3zM702 262h3v1h-3zM774 262h1v1h-1zM479 263h1v1h-1zM690 263h1v1h-1zM705 263h1v1h-1zM712 263h7v1h-7zM773 263h1v1h-1zM479 264h1v1h-1zM690 264h1v1h-1zM706 264h6v1h-6zM719 264h6v1h-6zM773 264h1v1h-1zM480 265h1v1h-1zM689 265h1v1h-1zM725 265h2v1h-2zM772 265h1v1h-1zM480 266h1v1h-1zM688 266h1v1h-1zM727 266h3v1h-3zM759 266h13v1h-13zM480 267h1v1h-1zM687 267h1v1h-1zM730 267h3v1h-3zM754 267h5v1h-5zM480 268h1v1h-1zM687 268h1v1h-1zM733 268h3v1h-3zM749 268h5v1h-5zM481 269h1v1h-1zM686 269h1v1h-1zM736 269h2v1h-2zM744 269h5v1h-5zM481 270h1v1h-1zM685 270h1v1h-1zM738 270h6v1h-6zM481 271h1v1h-1zM684 271h1v1h-1zM482 272h1v1h-1zM684 272h1v1h-1zM482 273h1v1h-1zM683 273h1v1h-1zM482 274h1v1h-1zM682 274h1v1h-1zM482 275h1v1h-1zM682 275h1v1h-1zM483 276h1v1h-1zM681 276h1v1h-1zM483 277h1v1h-1zM681 277h1v1h-1zM483 278h1v1h-1zM680 278h1v1h-1zM484 279h1v1h-1zM679 279h1v1h-1zM484 280h1v1h-1zM679 280h1v1h-1zM485 281h1v1h-1zM678 281h1v1h-1zM485 282h1v1h-1zM677 282h1v1h-1zM486 283h1v1h-1zM677 283h1v1h-1zM486 284h1v1h-1zM676 284h1v1h-1zM486 285h1v1h-1zM676 285h1v1h-1zM487 286h1v1h-1zM675 286h1v1h-1zM487 287h1v1h-1zM674 287h1v1h-1zM488 288h1v1h-1zM674 288h1v1h-1zM488 289h1v1h-1zM673 289h1v1h-1zM488 290h1v1h-1zM673 290h1v1h-1zM489 291h1v1h-1zM672 291h1v1h-1zM489 292h1v1h-1zM672 292h1v1h-1zM490 293h1v1h-1zM671 293h1v1h-1zM490 294h1v1h-1zM671 294h1v1h-1zM491 295h1v1h-1zM670 295h1v1h-1zM491 296h1v1h-1zM670 296h1v1h-1zM491 297h1v1h-1zM669 297h1v1h-1zM491 298h1v1h-1zM669 298h1v1h-1zM492 299h1v1h-1zM668 299h1v1h-1zM492 300h1v1h-1zM668 300h1v1h-1zM492 301h1v1h-1zM667 301h1v1h-1zM492 302h1v1h-1zM667 302h1v1h-1zM493 303h1v1h-1zM666 303h1v1h-1zM493 304h1v1h-1zM666 304h1v1h-1zM493 305h1v1h-1zM665 305h1v1h-1zM493 306h1v1h-1zM665 306h1v1h-1zM494 307h1v1h-1zM665 307h1v1h-1zM494 308h1v1h-1zM664 308h1v1h-1zM494 309h1v1h-1zM664 309h1v1h-1zM494 310h1v1h-1zM663 310h1v1h-1zM494 311h1v1h-1zM663 311h1v1h-1zM495 312h1v1h-1zM662 312h1v1h-1zM495 313h1v1h-1zM662 313h1v1h-1zM495 314h1v1h-1zM662 314h1v1h-1zM495 315h1v1h-1zM661 315h1v1h-1zM496 316h1v1h-1zM661 316h1v1h-1zM496 317h1v1h-1zM660 317h1v1h-1zM496 318h1v1h-1zM660 318h1v1h-1zM496 319h1v1h-1zM660 319h1v1h-1zM497 320h1v1h-1zM659 320h1v1h-1zM497 321h1v1h-1zM659 321h1v1h-1zM497 322h1v1h-1zM658 322h1v1h-1zM498 323h1v1h-1zM658 323h1v1h-1zM498 324h1v1h-1zM658 324h1v1h-1zM498 325h1v1h-1zM657 325h1v1h-1zM499 326h1v1h-1zM657 326h1v1h-1zM499 327h1v1h-1zM657 327h1v1h-1zM499 328h1v1h-1zM602 328h2v1h-2zM656 328h1v1h-1zM500 329h1v1h-1zM601 329h1v1h-1zM604 329h2v1h-2zM656 329h1v1h-1zM500 330h1v1h-1zM598 330h3v1h-3zM606 330h2v1h-2zM655 330h1v1h-1zM500 331h1v1h-1zM597 331h1v1h-1zM608 331h1v1h-1zM655 331h1v1h-1zM500 332h1v1h-1zM595 332h2v1h-2zM609 332h2v1h-2zM655 332h1v1h-1zM501 333h1v1h-1zM594 333h1v1h-1zM611 333h1v1h-1zM654 333h1v1h-1zM501 334h1v1h-1zM593 334h1v1h-1zM612 334h1v1h-1zM654 334h1v1h-1zM501 335h1v1h-1zM592 335h1v1h-1zM612 335h1v1h-1zM653 335h1v1h-1zM501 336h1v1h-1zM591 336h1v1h-1zM613 336h1v1h-1zM653 336h1v1h-1zM502 337h1v1h-1zM591 337h1v1h-1zM614 337h1v1h-1zM653 337h1v1h-1zM502 338h1v1h-1zM590 338h1v1h-1zM614 338h1v1h-1zM652 338h1v1h-1zM502 339h1v1h-1zM589 339h1v1h-1zM615 339h1v1h-1zM652 339h1v1h-1zM502 340h1v1h-1zM588 340h1v1h-1zM616 340h1v1h-1zM651 340h1v1h-1zM503 341h1v1h-1zM587 341h1v1h-1zM616 341h1v1h-1zM651 341h1v1h-1zM503 342h1v1h-1zM586 342h1v1h-1zM617 342h1v1h-1zM650 342h1v1h-1zM503 343h1v1h-1zM586 343h1v1h-1zM618 343h1v1h-1zM649 343h1v1h-1zM503 344h1v1h-1zM585 344h1v1h-1zM618 344h1v1h-1zM649 344h1v1h-1zM504 345h1v1h-1zM585 345h1v1h-1zM619 345h1v1h-1zM648 345h1v1h-1zM504 346h1v1h-1zM584 346h1v1h-1zM620 346h1v1h-1zM647 346h1v1h-1zM504 347h1v1h-1zM584 347h1v1h-1zM621 347h1v1h-1zM646 347h1v1h-1zM504 348h1v1h-1zM583 348h1v1h-1zM622 348h1v1h-1zM645 348h1v1h-1zM505 349h1v1h-1zM582 349h1v1h-1zM623 349h1v1h-1zM645 349h1v1h-1zM505 350h1v1h-1zM582 350h1v1h-1zM624 350h1v1h-1zM644 350h1v1h-1zM505 351h1v1h-1zM581 351h1v1h-1zM625 351h1v1h-1zM643 351h1v1h-1zM505 352h1v1h-1zM581 352h1v1h-1zM626 352h1v1h-1zM640 352h3v1h-3zM506 353h1v1h-1zM580 353h1v1h-1zM627 353h2v1h-2zM639 353h1v1h-1zM506 354h1v1h-1zM580 354h1v1h-1zM629 354h5v1h-5zM636 354h3v1h-3zM506 355h1v1h-1zM579 355h1v1h-1zM634 355h2v1h-2zM506 356h1v1h-1zM579 356h1v1h-1zM507 357h1v1h-1zM578 357h1v1h-1zM507 358h1v1h-1zM578 358h1v1h-1zM508 359h1v1h-1zM578 359h1v1h-1zM508 360h1v1h-1zM577 360h1v1h-1zM509 361h1v1h-1zM577 361h1v1h-1zM509 362h1v1h-1zM577 362h1v1h-1zM510 363h1v1h-1zM576 363h1v1h-1zM510 364h1v1h-1zM576 364h1v1h-1zM510 365h1v1h-1zM576 365h1v1h-1zM511 366h1v1h-1zM575 366h1v1h-1zM511 367h1v1h-1zM575 367h1v1h-1zM512 368h1v1h-1zM575 368h1v1h-1zM512 369h1v1h-1zM575 369h1v1h-1zM513 370h1v1h-1zM574 370h1v1h-1zM513 371h1v1h-1zM574 371h1v1h-1zM514 372h1v1h-1zM574 372h1v1h-1zM514 373h1v1h-1zM573 373h1v1h-1zM515 374h1v1h-1zM573 374h1v1h-1zM515 375h1v1h-1zM573 375h1v1h-1zM516 376h1v1h-1zM572 376h1v1h-1zM516 377h1v1h-1zM572 377h1v1h-1zM516 378h1v1h-1zM572 378h1v1h-1zM517 379h1v1h-1zM571 379h1v1h-1zM518 380h1v1h-1zM571 380h1v1h-1zM518 381h1v1h-1zM571 381h1v1h-1zM518 382h1v1h-1zM570 382h1v1h-1zM519 383h1v1h-1zM570 383h1v1h-1zM520 384h1v1h-1zM570 384h1v1h-1zM520 385h1v1h-1zM569 385h1v1h-1zM520 386h1v1h-1zM569 386h1v1h-1zM521 387h1v1h-1zM568 387h1v1h-1zM522 388h1v1h-1zM568 388h1v1h-1zM522 389h1v1h-1zM568 389h1v1h-1zM522 390h1v1h-1zM567 390h1v1h-1zM523 391h1v1h-1zM567 391h1v1h-1zM523 392h1v1h-1zM567 392h1v1h-1zM524 393h1v1h-1zM566 393h1v1h-1zM524 394h1v1h-1zM566 394h1v1h-1zM525 395h1v1h-1zM566 395h1v1h-1zM525 396h1v1h-1zM565 396h1v1h-1zM526 397h1v1h-1zM565 397h1v1h-1zM526 398h1v1h-1zM564 398h1v1h-1zM526 399h1v1h-1zM564 399h1v1h-1zM527 400h1v1h-1zM564 400h1v1h-1zM527 401h1v1h-1zM563 401h1v1h-1zM528 402h1v1h-1zM563 402h1v1h-1zM528 403h1v1h-1zM562 403h1v1h-1zM528 404h1v1h-1zM562 404h1v1h-1zM529 405h1v1h-1zM561 405h1v1h-1zM529 406h1v1h-1zM560 406h1v1h-1zM530 407h1v1h-1zM560 407h1v1h-1zM530 408h1v1h-1zM559 408h1v1h-1zM531 409h1v1h-1zM558 409h1v1h-1zM531 410h1v1h-1zM558 410h1v1h-1zM532 411h1v1h-1zM557 411h1v1h-1zM532 412h1v1h-1zM556 412h1v1h-1zM532 413h1v1h-1zM556 413h1v1h-1zM533 414h1v1h-1zM555 414h1v1h-1zM534 415h1v1h-1zM554 415h1v1h-1zM534 416h1v1h-1zM553 416h1v1h-1zM534 417h1v1h-1zM552 417h1v1h-1zM535 418h1v1h-1zM550 418h2v1h-2zM536 419h1v1h-1zM549 419h1v1h-1zM536 420h1v1h-1zM548 420h1v1h-1zM536 421h1v1h-1zM547 421h1v1h-1zM537 422h1v1h-1zM545 422h2v1h-2zM538 423h1v1h-1zM544 423h1v1h-1zM538 424h1v1h-1zM542 424h2v1h-2zM538 425h1v1h-1zM540 425h2v1h-2zM539 426h1v1h-1z"/>
<g class="c">
<rect x="3" y="68" width="1593" height="2" fill="#ff0000"/>
<rect x="3" y="98" width="1593" height="2" fill="#ff0000"/>
<rect x="3" y="128" width="1593" height="2" fill="#00ff00"/>
<rect x="3" y="167" width="1593" height="2" fill="#0000ff"/>
<rect x="3" y="218" width="1593" height="2" fill="#0000ff"/>
<rect x="2" y="126" width="6" height="6" fill="#00ff00"/>
<rect x="4" y="128" width="2" height="2" fill="#fff"/>
<rect x="1589" y="126" width="6" height="6" fill="#00ff00"/>
<rect x="1591" y="128" width="2" height="2" fill="#fff"/>
<rect x="2" y="216" width="6" height="6" fill="#0000ff"/>
<rect x="4" y="218" width="2" height="2" fill="#fff"/>
<rect x="1589" y="216" width="6" height="6" fill="#0000ff"/>
<rect x="1591" y="218" width="2" height="2" fill="#fff"/>
</g>
<g class="c">
<rect x="1271" y="26" width="9" height="1" fill="#c0c0c0"/>
<rect x="1272" y="27" width="7" height="1" fill="#c0c0c0"/>
<rect x="1273" y="28" width="5" height="1" fill="#c0c0c0"/>
<rect x="1274" y="29" width="3" height="1" fill="#c0c0c0"/>
<rect x="1275" y="30" width="1" height="1" fill="#c0c0c0"/>
</g>
<path d="M6 32 L13 32 L9.5 36 Z" fill="#000"/>
<text x="19.2" y="37" font-size="10" fill="#000" stroke="#000" stroke-width="0.15" textLength="64.2" lengthAdjust="spacingAndGlyphs">AUDUSD,Daily</text>
<text x="90" y="37" font-size="10" fill="#000" stroke="#000" stroke-width="0.15" textLength="140.4" lengthAdjust="spacingAndGlyphs">0.69431 0.69601 0.69407 0.69501</text>
<g class="c">
<rect x="1596" y="33" width="2" height="1" fill="#000"/>
<rect x="1596" y="132" width="2" height="1" fill="#000"/>
<rect x="1596" y="198" width="2" height="1" fill="#000"/>
<rect x="1596" y="231" width="2" height="1" fill="#000"/>
<rect x="1596" y="264" width="2" height="1" fill="#000"/>
<rect x="1596" y="297" width="2" height="1" fill="#000"/>
<rect x="1596" y="330" width="2" height="1" fill="#000"/>
<rect x="1596" y="363" width="2" height="1" fill="#000"/>
<rect x="1596" y="396" width="2" height="1" fill="#000"/>
<rect x="1596" y="429" width="2" height="1" fill="#000"/>
<rect x="1596" y="462" width="2" height="1" fill="#000"/>
<rect x="1596" y="495" width="2" height="1" fill="#000"/>
<rect x="1596" y="528" width="2" height="1" fill="#000"/>
<rect x="1596" y="66" width="1" height="1" fill="#000"/>
<rect x="1596" y="99" width="1" height="1" fill="#000"/>
</g>
<text x="1601" y="37" font-size="10" fill="#000" stroke="#000" stroke-width="0.15" textLength="32.8" lengthAdjust="spacingAndGlyphs">0.71190</text>
<text x="1601" y="136" font-size="10" fill="#000" stroke="#000" stroke-width="0.15" textLength="32.8" lengthAdjust="spacingAndGlyphs">0.67920</text>
<text x="1601" y="202" font-size="10" fill="#000" stroke="#000" stroke-width="0.15" textLength="32.8" lengthAdjust="spacingAndGlyphs">0.65730</text>
<text x="1601" y="235" font-size="10" fill="#000" stroke="#000" stroke-width="0.15" textLength="32.8" lengthAdjust="spacingAndGlyphs">0.64620</text>
<text x="1601" y="268" font-size="10" fill="#000" stroke="#000" stroke-width="0.15" textLength="32.8" lengthAdjust="spacingAndGlyphs">0.63540</text>
<text x="1601" y="301" font-size="10" fill="#000" stroke="#000" stroke-width="0.15" textLength="32.8" lengthAdjust="spacingAndGlyphs">0.62430</text>
<text x="1601" y="334" font-size="10" fill="#000" stroke="#000" stroke-width="0.15" textLength="32.8" lengthAdjust="spacingAndGlyphs">0.61350</text>
<text x="1601" y="367" font-size="10" fill="#000" stroke="#000" stroke-width="0.15" textLength="32.8" lengthAdjust="spacingAndGlyphs">0.60240</text>
<text x="1601" y="400" font-size="10" fill="#000" stroke="#000" stroke-width="0.15" textLength="32.8" lengthAdjust="spacingAndGlyphs">0.59160</text>
<text x="1601" y="433" font-size="10" fill="#000" stroke="#000" stroke-width="0.15" textLength="32.8" lengthAdjust="spacingAndGlyphs">0.58050</text>
<text x="1601" y="466" font-size="10" fill="#000" stroke="#000" stroke-width="0.15" textLength="32.8" lengthAdjust="spacingAndGlyphs">0.56970</text>
<text x="1601" y="499" font-size="10" fill="#000" stroke="#000" stroke-width="0.15" textLength="32.8" lengthAdjust="spacingAndGlyphs">0.55860</text>
<text x="1601" y="532" font-size="10" fill="#000" stroke="#000" stroke-width="0.15" textLength="32.8" lengthAdjust="spacingAndGlyphs">0.54780</text>
<g class="c">
<rect x="1597" y="63" width="41" height="11" fill="#ff0000"/>
<rect x="1597" y="79" width="41" height="11" fill="#000000"/>
<rect x="1597" y="93" width="41" height="11" fill="#ff0000"/>
<rect x="1597" y="123" width="41" height="11" fill="#00ff00"/>
<rect x="1597" y="162" width="41" height="11" fill="#0000ff"/>
<rect x="1597" y="213" width="41" height="11" fill="#0000ff"/>
</g>
<text x="1601" y="72" font-size="10" fill="#fff" stroke="#fff" stroke-width="0.15" textLength="33" lengthAdjust="spacingAndGlyphs">0.70007</text>
<text x="1601" y="88" font-size="10" fill="#fff" stroke="#fff" stroke-width="0.15" textLength="33" lengthAdjust="spacingAndGlyphs">0.69501</text>
<text x="1601" y="102" font-size="10" fill="#fff" stroke="#fff" stroke-width="0.15" textLength="33" lengthAdjust="spacingAndGlyphs">0.69010</text>
<text x="1601" y="132" font-size="10" fill="#fff" stroke="#fff" stroke-width="0.15" textLength="33" lengthAdjust="spacingAndGlyphs">0.68017</text>
<text x="1601" y="171" font-size="10" fill="#fff" stroke="#fff" stroke-width="0.15" textLength="33" lengthAdjust="spacingAndGlyphs">0.66706</text>
<text x="1601" y="222" font-size="10" fill="#fff" stroke="#fff" stroke-width="0.15" textLength="33" lengthAdjust="spacingAndGlyphs">0.65020</text>
<g class="c">
<path fill="#c0c0c0" d="M4 561h3v1h-3zM10 561h3v1h-3zM16 561h3v1h-3zM22 561h3v1h-3zM28 561h3v1h-3zM34 561h3v1h-3zM40 561h3v1h-3zM46 561h3v1h-3zM52 561h3v1h-3zM58 561h3v1h-3zM64 561h3v1h-3zM70 561h3v1h-3zM76 561h3v1h-3zM82 561h3v1h-3zM88 561h3v1h-3zM94 561h3v1h-3zM100 561h3v1h-3zM106 561h3v1h-3zM112 561h3v1h-3zM118 561h3v1h-3zM124 561h3v1h-3zM130 561h3v1h-3zM136 561h3v1h-3zM142 561h3v1h-3zM148 561h3v1h-3zM154 561h3v1h-3zM160 561h3v1h-3zM166 561h3v1h-3zM172 561h3v1h-3zM178 561h3v1h-3zM184 561h3v1h-3zM190 561h3v1h-3zM196 561h3v1h-3zM202 561h3v1h-3zM208 561h3v1h-3zM214 561h3v1h-3zM220 561h3v1h-3zM226 561h3v1h-3zM232 561h3v1h-3zM238 561h3v1h-3zM244 561h3v1h-3zM250 561h3v1h-3zM256 561h3v1h-3zM262 561h3v1h-3zM268 561h3v1h-3zM274 561h3v1h-3zM280 561h3v1h-3zM286 561h3v1h-3zM292 561h3v1h-3zM298 561h3v1h-3zM304 561h3v1h-3zM310 561h3v1h-3zM316 561h3v1h-3zM322 561h3v1h-3zM328 561h3v1h-3zM334 561h3v1h-3zM340 561h3v1h-3zM346 561h3v1h-3zM352 561h3v1h-3zM358 561h3v1h-3zM364 561h3v1h-3zM370 561h3v1h-3zM376 561h3v1h-3zM382 561h3v1h-3zM388 561h3v1h-3zM394 561h3v1h-3zM400 561h3v1h-3zM406 561h3v1h-3zM412 561h3v1h-3zM418 561h3v1h-3zM424 561h3v1h-3zM430 561h3v1h-3zM436 561h3v1h-3zM442 561h3v1h-3zM448 561h3v1h-3zM454 561h3v1h-3zM460 561h3v1h-3zM466 561h3v1h-3zM472 561h3v1h-3zM478 561h3v1h-3zM484 561h3v1h-3zM490 561h3v1h-3zM496 561h3v1h-3zM502 561h3v1h-3zM508 561h3v1h-3zM514 561h3v1h-3zM520 561h3v1h-3zM526 561h3v1h-3zM532 561h3v1h-3zM538 561h3v1h-3zM544 561h3v1h-3zM550 561h3v1h-3zM556 561h3v1h-3zM562 561h3v1h-3zM568 561h3v1h-3zM574 561h3v1h-3zM580 561h3v1h-3zM586 561h3v1h-3zM592 561h3v1h-3zM598 561h3v1h-3zM604 561h3v1h-3zM610 561h3v1h-3zM616 561h3v1h-3zM622 561h3v1h-3zM628 561h3v1h-3zM634 561h3v1h-3zM640 561h3v1h-3zM646 561h3v1h-3zM652 561h3v1h-3zM658 561h3v1h-3zM664 561h3v1h-3zM670 561h3v1h-3zM676 561h3v1h-3zM682 561h3v1h-3zM688 561h3v1h-3zM694 561h3v1h-3zM700 561h3v1h-3zM706 561h3v1h-3zM712 561h3v1h-3zM718 561h3v1h-3zM724 561h3v1h-3zM730 561h3v1h-3zM736 561h3v1h-3zM742 561h3v1h-3zM748 561h3v1h-3zM754 561h3v1h-3zM760 561h3v1h-3zM766 561h3v1h-3zM772 561h3v1h-3zM778 561h3v1h-3zM784 561h3v1h-3zM790 561h3v1h-3zM796 561h3v1h-3zM802 561h3v1h-3zM808 561h3v1h-3zM814 561h3v1h-3zM820 561h3v1h-3zM826 561h3v1h-3zM832 561h3v1h-3zM838 561h3v1h-3zM844 561h3v1h-3zM850 561h3v1h-3zM856 561h3v1h-3zM862 561h3v1h-3zM868 561h3v1h-3zM874 561h3v1h-3zM880 561h3v1h-3zM886 561h3v1h-3zM892 561h3v1h-3zM898 561h3v1h-3zM904 561h3v1h-3zM910 561h3v1h-3zM916 561h3v1h-3zM922 561h3v1h-3zM928 561h3v1h-3zM934 561h3v1h-3zM940 561h3v1h-3zM946 561h3v1h-3zM952 561h3v1h-3zM958 561h3v1h-3zM964 561h3v1h-3zM970 561h3v1h-3zM976 561h3v1h-3zM982 561h3v1h-3zM988 561h3v1h-3zM994 561h3v1h-3zM1000 561h3v1h-3zM1006 561h3v1h-3zM1012 561h3v1h-3zM1018 561h3v1h-3zM1024 561h3v1h-3zM1030 561h3v1h-3zM1036 561h3v1h-3zM1042 561h3v1h-3zM1048 561h3v1h-3zM1054 561h3v1h-3zM1060 561h3v1h-3zM1066 561h3v1h-3zM1072 561h3v1h-3zM1078 561h3v1h-3zM1084 561h3v1h-3zM1090 561h3v1h-3zM1096 561h3v1h-3zM1102 561h3v1h-3zM1108 561h3v1h-3zM1114 561h3v1h-3zM1120 561h3v1h-3zM1126 561h3v1h-3zM1132 561h3v1h-3zM1138 561h3v1h-3zM1144 561h3v1h-3zM1150 561h3v1h-3zM1156 561h3v1h-3zM1162 561h3v1h-3zM1168 561h3v1h-3zM1174 561h3v1h-3zM1180 561h3v1h-3zM1186 561h3v1h-3zM1192 561h3v1h-3zM1198 561h3v1h-3zM1204 561h3v1h-3zM1210 561h3v1h-3zM1216 561h3v1h-3zM1222 561h3v1h-3zM1228 561h3v1h-3zM1234 561h3v1h-3zM1240 561h3v1h-3zM1246 561h3v1h-3zM1252 561h3v1h-3zM1258 561h3v1h-3zM1264 561h3v1h-3zM1270 561h3v1h-3zM1276 561h3v1h-3zM1282 561h3v1h-3zM1288 561h3v1h-3zM1294 561h3v1h-3zM1300 561h3v1h-3zM1306 561h3v1h-3zM1312 561h3v1h-3zM1318 561h3v1h-3zM1324 561h3v1h-3zM1330 561h3v1h-3zM1336 561h3v1h-3zM1342 561h3v1h-3zM1348 561h3v1h-3zM1354 561h3v1h-3zM1360 561h3v1h-3zM1366 561h3v1h-3zM1372 561h3v1h-3zM1378 561h3v1h-3zM1384 561h3v1h-3zM1390 561h3v1h-3zM1396 561h3v1h-3zM1402 561h3v1h-3zM1408 561h3v1h-3zM1414 561h3v1h-3zM1420 561h3v1h-3zM1426 561h3v1h-3zM1432 561h3v1h-3zM1438 561h3v1h-3zM1444 561h3v1h-3zM1450 561h3v1h-3zM1456 561h3v1h-3zM1462 561h3v1h-3zM1468 561h3v1h-3zM1474 561h3v1h-3zM1480 561h3v1h-3zM1486 561h3v1h-3zM1492 561h3v1h-3zM1498 561h3v1h-3zM1504 561h3v1h-3zM1510 561h3v1h-3zM1516 561h3v1h-3zM1522 561h3v1h-3zM1528 561h3v1h-3zM1534 561h3v1h-3zM1540 561h3v1h-3zM1546 561h3v1h-3zM1552 561h3v1h-3zM1558 561h3v1h-3zM1564 561h3v1h-3zM1570 561h3v1h-3zM1576 561h3v1h-3zM1582 561h3v1h-3zM1588 561h3v1h-3z"/>
<path fill="#c0c0c0" d="M4 597h3v1h-3zM10 597h3v1h-3zM16 597h3v1h-3zM22 597h3v1h-3zM28 597h3v1h-3zM34 597h3v1h-3zM40 597h3v1h-3zM46 597h3v1h-3zM52 597h3v1h-3zM58 597h3v1h-3zM64 597h3v1h-3zM70 597h3v1h-3zM76 597h3v1h-3zM82 597h3v1h-3zM88 597h3v1h-3zM94 597h3v1h-3zM100 597h3v1h-3zM106 597h3v1h-3zM112 597h3v1h-3zM118 597h3v1h-3zM124 597h3v1h-3zM130 597h3v1h-3zM136 597h3v1h-3zM142 597h3v1h-3zM148 597h3v1h-3zM154 597h3v1h-3zM160 597h3v1h-3zM166 597h3v1h-3zM172 597h3v1h-3zM178 597h3v1h-3zM184 597h3v1h-3zM190 597h3v1h-3zM196 597h3v1h-3zM202 597h3v1h-3zM208 597h3v1h-3zM214 597h3v1h-3zM220 597h3v1h-3zM226 597h3v1h-3zM232 597h3v1h-3zM238 597h3v1h-3zM244 597h3v1h-3zM250 597h3v1h-3zM256 597h3v1h-3zM262 597h3v1h-3zM268 597h3v1h-3zM274 597h3v1h-3zM280 597h3v1h-3zM286 597h3v1h-3zM292 597h3v1h-3zM298 597h3v1h-3zM304 597h3v1h-3zM310 597h3v1h-3zM316 597h3v1h-3zM322 597h3v1h-3zM328 597h3v1h-3zM334 597h3v1h-3zM340 597h3v1h-3zM346 597h3v1h-3zM352 597h3v1h-3zM358 597h3v1h-3zM364 597h3v1h-3zM370 597h3v1h-3zM376 597h3v1h-3zM382 597h3v1h-3zM388 597h3v1h-3zM394 597h3v1h-3zM400 597h3v1h-3zM406 597h3v1h-3zM412 597h3v1h-3zM418 597h3v1h-3zM424 597h3v1h-3zM430 597h3v1h-3zM436 597h3v1h-3zM442 597h3v1h-3zM448 597h3v1h-3zM454 597h3v1h-3zM460 597h3v1h-3zM466 597h3v1h-3zM472 597h3v1h-3zM478 597h3v1h-3zM484 597h3v1h-3zM490 597h3v1h-3zM496 597h3v1h-3zM502 597h3v1h-3zM508 597h3v1h-3zM514 597h3v1h-3zM520 597h3v1h-3zM526 597h3v1h-3zM532 597h3v1h-3zM538 597h3v1h-3zM544 597h3v1h-3zM550 597h3v1h-3zM556 597h3v1h-3zM562 597h3v1h-3zM568 597h3v1h-3zM574 597h3v1h-3zM580 597h3v1h-3zM586 597h3v1h-3zM592 597h3v1h-3zM598 597h3v1h-3zM604 597h3v1h-3zM610 597h3v1h-3zM616 597h3v1h-3zM622 597h3v1h-3zM628 597h3v1h-3zM634 597h3v1h-3zM640 597h3v1h-3zM646 597h3v1h-3zM652 597h3v1h-3zM658 597h3v1h-3zM664 597h3v1h-3zM670 597h3v1h-3zM676 597h3v1h-3zM682 597h3v1h-3zM688 597h3v1h-3zM694 597h3v1h-3zM700 597h3v1h-3zM706 597h3v1h-3zM712 597h3v1h-3zM718 597h3v1h-3zM724 597h3v1h-3zM730 597h3v1h-3zM736 597h3v1h-3zM742 597h3v1h-3zM748 597h3v1h-3zM754 597h3v1h-3zM760 597h3v1h-3zM766 597h3v1h-3zM772 597h3v1h-3zM778 597h3v1h-3zM784 597h3v1h-3zM790 597h3v1h-3zM796 597h3v1h-3zM802 597h3v1h-3zM808 597h3v1h-3zM814 597h3v1h-3zM820 597h3v1h-3zM826 597h3v1h-3zM832 597h3v1h-3zM838 597h3v1h-3zM844 597h3v1h-3zM850 597h3v1h-3zM856 597h3v1h-3zM862 597h3v1h-3zM868 597h3v1h-3zM874 597h3v1h-3zM880 597h3v1h-3zM886 597h3v1h-3zM892 597h3v1h-3zM898 597h3v1h-3zM904 597h3v1h-3zM910 597h3v1h-3zM916 597h3v1h-3zM922 597h3v1h-3zM928 597h3v1h-3zM934 597h3v1h-3zM940 597h3v1h-3zM946 597h3v1h-3zM952 597h3v1h-3zM958 597h3v1h-3zM964 597h3v1h-3zM970 597h3v1h-3zM976 597h3v1h-3zM982 597h3v1h-3zM988 597h3v1h-3zM994 597h3v1h-3zM1000 597h3v1h-3zM1006 597h3v1h-3zM1012 597h3v1h-3zM1018 597h3v1h-3zM1024 597h3v1h-3zM1030 597h3v1h-3zM1036 597h3v1h-3zM1042 597h3v1h-3zM1048 597h3v1h-3zM1054 597h3v1h-3zM1060 597h3v1h-3zM1066 597h3v1h-3zM1072 597h3v1h-3zM1078 597h3v1h-3zM1084 597h3v1h-3zM1090 597h3v1h-3zM1096 597h3v1h-3zM1102 597h3v1h-3zM1108 597h3v1h-3zM1114 597h3v1h-3zM1120 597h3v1h-3zM1126 597h3v1h-3zM1132 597h3v1h-3zM1138 597h3v1h-3zM1144 597h3v1h-3zM1150 597h3v1h-3zM1156 597h3v1h-3zM1162 597h3v1h-3zM1168 597h3v1h-3zM1174 597h3v1h-3zM1180 597h3v1h-3zM1186 597h3v1h-3zM1192 597h3v1h-3zM1198 597h3v1h-3zM1204 597h3v1h-3zM1210 597h3v1h-3zM1216 597h3v1h-3zM1222 597h3v1h-3zM1228 597h3v1h-3zM1234 597h3v1h-3zM1240 597h3v1h-3zM1246 597h3v1h-3zM1252 597h3v1h-3zM1258 597h3v1h-3zM1264 597h3v1h-3zM1270 597h3v1h-3zM1276 597h3v1h-3zM1282 597h3v1h-3zM1288 597h3v1h-3zM1294 597h3v1h-3zM1300 597h3v1h-3zM1306 597h3v1h-3zM1312 597h3v1h-3zM1318 597h3v1h-3zM1324 597h3v1h-3zM1330 597h3v1h-3zM1336 597h3v1h-3zM1342 597h3v1h-3zM1348 597h3v1h-3zM1354 597h3v1h-3zM1360 597h3v1h-3zM1366 597h3v1h-3zM1372 597h3v1h-3zM1378 597h3v1h-3zM1384 597h3v1h-3zM1390 597h3v1h-3zM1396 597h3v1h-3zM1402 597h3v1h-3zM1408 597h3v1h-3zM1414 597h3v1h-3zM1420 597h3v1h-3zM1426 597h3v1h-3zM1432 597h3v1h-3zM1438 597h3v1h-3zM1444 597h3v1h-3zM1450 597h3v1h-3zM1456 597h3v1h-3zM1462 597h3v1h-3zM1468 597h3v1h-3zM1474 597h3v1h-3zM1480 597h3v1h-3zM1486 597h3v1h-3zM1492 597h3v1h-3zM1498 597h3v1h-3zM1504 597h3v1h-3zM1510 597h3v1h-3zM1516 597h3v1h-3zM1522 597h3v1h-3zM1528 597h3v1h-3zM1534 597h3v1h-3zM1540 597h3v1h-3zM1546 597h3v1h-3zM1552 597h3v1h-3zM1558 597h3v1h-3zM1564 597h3v1h-3zM1570 597h3v1h-3zM1576 597h3v1h-3zM1582 597h3v1h-3zM1588 597h3v1h-3z"/>
</g>
<path class="c" fill="#1e90ff" d="M1048 555h5v1h-5zM1033 556h15v1h-15zM1053 556h5v1h-5zM1063 556h6v1h-6zM1030 557h3v1h-3zM1058 557h5v1h-5zM1069 557h2v1h-2zM1082 557h2v1h-2zM1026 558h4v1h-4zM1071 558h3v1h-3zM1077 558h5v1h-5zM1084 558h1v1h-1zM1025 559h1v1h-1zM1074 559h3v1h-3zM1084 559h1v1h-1zM1022 560h3v1h-3zM1085 560h1v1h-1zM1021 561h1v1h-1zM1086 561h1v1h-1zM1019 562h2v1h-2zM1086 562h1v1h-1zM794 563h3v1h-3zM1018 563h1v1h-1zM1087 563h1v1h-1zM789 564h5v1h-5zM797 564h3v1h-3zM1016 564h2v1h-2zM1088 564h1v1h-1zM786 565h3v1h-3zM800 565h2v1h-2zM1015 565h1v1h-1zM1088 565h1v1h-1zM689 566h3v1h-3zM783 566h3v1h-3zM802 566h2v1h-2zM979 566h1v1h-1zM1013 566h2v1h-2zM1089 566h1v1h-1zM686 567h3v1h-3zM692 567h1v1h-1zM781 567h2v1h-2zM804 567h1v1h-1zM936 567h4v1h-4zM978 567h1v1h-1zM980 567h2v1h-2zM995 567h2v1h-2zM1012 567h1v1h-1zM1090 567h1v1h-1zM1170 567h2v1h-2zM679 568h7v1h-7zM693 568h1v1h-1zM779 568h2v1h-2zM805 568h1v1h-1zM857 568h7v1h-7zM930 568h6v1h-6zM940 568h3v1h-3zM976 568h2v1h-2zM982 568h2v1h-2zM992 568h3v1h-3zM997 568h5v1h-5zM1007 568h5v1h-5zM1090 568h1v1h-1zM1167 568h3v1h-3zM1172 568h1v1h-1zM1255 568h5v1h-5zM672 569h7v1h-7zM694 569h1v1h-1zM777 569h2v1h-2zM806 569h1v1h-1zM854 569h3v1h-3zM864 569h4v1h-4zM929 569h1v1h-1zM943 569h1v1h-1zM975 569h1v1h-1zM984 569h1v1h-1zM991 569h1v1h-1zM1002 569h5v1h-5zM1091 569h2v1h-2zM1128 569h4v1h-4zM1165 569h2v1h-2zM1173 569h1v1h-1zM1240 569h15v1h-15zM658 570h14v1h-14zM695 570h2v1h-2zM729 570h3v1h-3zM775 570h2v1h-2zM807 570h1v1h-1zM851 570h3v1h-3zM868 570h2v1h-2zM926 570h3v1h-3zM944 570h3v1h-3zM973 570h2v1h-2zM985 570h2v1h-2zM988 570h3v1h-3zM1093 570h3v1h-3zM1121 570h7v1h-7zM1132 570h2v1h-2zM1162 570h3v1h-3zM1174 570h1v1h-1zM1231 570h9v1h-9zM657 571h1v1h-1zM697 571h1v1h-1zM726 571h3v1h-3zM732 571h1v1h-1zM774 571h1v1h-1zM808 571h1v1h-1zM850 571h1v1h-1zM870 571h1v1h-1zM925 571h1v1h-1zM947 571h2v1h-2zM972 571h1v1h-1zM987 571h1v1h-1zM1096 571h2v1h-2zM1118 571h3v1h-3zM1134 571h1v1h-1zM1161 571h1v1h-1zM1175 571h1v1h-1zM1226 571h5v1h-5zM654 572h3v1h-3zM698 572h1v1h-1zM714 572h12v1h-12zM733 572h1v1h-1zM754 572h6v1h-6zM772 572h2v1h-2zM809 572h1v1h-1zM834 572h3v1h-3zM848 572h2v1h-2zM871 572h2v1h-2zM881 572h4v1h-4zM923 572h2v1h-2zM949 572h3v1h-3zM967 572h5v1h-5zM1098 572h6v1h-6zM1111 572h7v1h-7zM1135 572h2v1h-2zM1158 572h3v1h-3zM1176 572h1v1h-1zM1221 572h5v1h-5zM3 573h1v1h-1zM653 573h1v1h-1zM699 573h2v1h-2zM712 573h2v1h-2zM734 573h1v1h-1zM752 573h2v1h-2zM760 573h12v1h-12zM810 573h1v1h-1zM832 573h2v1h-2zM837 573h1v1h-1zM847 573h1v1h-1zM873 573h2v1h-2zM878 573h3v1h-3zM885 573h2v1h-2zM922 573h1v1h-1zM952 573h2v1h-2zM960 573h7v1h-7zM1104 573h7v1h-7zM1137 573h2v1h-2zM1157 573h1v1h-1zM1177 573h1v1h-1zM1219 573h2v1h-2zM4 574h3v1h-3zM650 574h3v1h-3zM701 574h5v1h-5zM709 574h3v1h-3zM735 574h1v1h-1zM749 574h3v1h-3zM811 574h5v1h-5zM829 574h3v1h-3zM838 574h3v1h-3zM845 574h2v1h-2zM875 574h3v1h-3zM887 574h3v1h-3zM921 574h1v1h-1zM954 574h6v1h-6zM1139 574h18v1h-18zM1178 574h1v1h-1zM1216 574h3v1h-3zM7 575h1v1h-1zM648 575h2v1h-2zM706 575h3v1h-3zM736 575h1v1h-1zM746 575h3v1h-3zM816 575h13v1h-13zM841 575h1v1h-1zM844 575h1v1h-1zM890 575h2v1h-2zM920 575h1v1h-1zM1179 575h12v1h-12zM1215 575h1v1h-1zM8 576h3v1h-3zM645 576h3v1h-3zM737 576h1v1h-1zM743 576h3v1h-3zM842 576h2v1h-2zM892 576h3v1h-3zM918 576h2v1h-2zM1191 576h17v1h-17zM1212 576h3v1h-3zM11 577h1v1h-1zM643 577h2v1h-2zM738 577h1v1h-1zM741 577h2v1h-2zM895 577h1v1h-1zM917 577h1v1h-1zM1208 577h4v1h-4zM12 578h1v1h-1zM441 578h3v1h-3zM641 578h2v1h-2zM739 578h2v1h-2zM896 578h3v1h-3zM916 578h1v1h-1zM13 579h1v1h-1zM438 579h3v1h-3zM444 579h1v1h-1zM640 579h1v1h-1zM899 579h4v1h-4zM912 579h4v1h-4zM13 580h1v1h-1zM43 580h21v1h-21zM71 580h7v1h-7zM431 580h7v1h-7zM444 580h1v1h-1zM578 580h4v1h-4zM639 580h1v1h-1zM903 580h9v1h-9zM14 581h1v1h-1zM42 581h1v1h-1zM64 581h7v1h-7zM78 581h3v1h-3zM426 581h5v1h-5zM444 581h1v1h-1zM576 581h2v1h-2zM582 581h3v1h-3zM638 581h1v1h-1zM15 582h1v1h-1zM41 582h1v1h-1zM81 582h4v1h-4zM403 582h11v1h-11zM423 582h3v1h-3zM445 582h1v1h-1zM573 582h3v1h-3zM585 582h7v1h-7zM636 582h2v1h-2zM16 583h1v1h-1zM40 583h1v1h-1zM85 583h2v1h-2zM267 583h2v1h-2zM402 583h1v1h-1zM414 583h3v1h-3zM421 583h2v1h-2zM446 583h1v1h-1zM571 583h2v1h-2zM592 583h7v1h-7zM635 583h1v1h-1zM17 584h1v1h-1zM39 584h1v1h-1zM87 584h3v1h-3zM265 584h2v1h-2zM269 584h3v1h-3zM402 584h1v1h-1zM417 584h4v1h-4zM446 584h1v1h-1zM569 584h2v1h-2zM599 584h6v1h-6zM633 584h2v1h-2zM17 585h1v1h-1zM39 585h1v1h-1zM90 585h11v1h-11zM264 585h1v1h-1zM272 585h2v1h-2zM401 585h1v1h-1zM446 585h1v1h-1zM568 585h1v1h-1zM605 585h2v1h-2zM632 585h1v1h-1zM18 586h1v1h-1zM38 586h1v1h-1zM101 586h5v1h-5zM262 586h2v1h-2zM274 586h4v1h-4zM401 586h1v1h-1zM447 586h1v1h-1zM566 586h2v1h-2zM607 586h3v1h-3zM631 586h1v1h-1zM19 587h2v1h-2zM37 587h1v1h-1zM106 587h5v1h-5zM260 587h2v1h-2zM278 587h3v1h-3zM400 587h1v1h-1zM448 587h1v1h-1zM564 587h2v1h-2zM610 587h3v1h-3zM630 587h1v1h-1zM21 588h5v1h-5zM36 588h1v1h-1zM111 588h6v1h-6zM259 588h1v1h-1zM281 588h7v1h-7zM295 588h7v1h-7zM400 588h1v1h-1zM448 588h1v1h-1zM563 588h1v1h-1zM613 588h5v1h-5zM628 588h2v1h-2zM26 589h10v1h-10zM117 589h1v1h-1zM130 589h2v1h-2zM258 589h1v1h-1zM288 589h7v1h-7zM302 589h3v1h-3zM399 589h1v1h-1zM448 589h1v1h-1zM459 589h1v1h-1zM562 589h1v1h-1zM618 589h10v1h-10zM118 590h3v1h-3zM127 590h3v1h-3zM132 590h3v1h-3zM257 590h1v1h-1zM305 590h4v1h-4zM398 590h1v1h-1zM449 590h1v1h-1zM457 590h2v1h-2zM460 590h1v1h-1zM560 590h2v1h-2zM121 591h1v1h-1zM125 591h2v1h-2zM135 591h1v1h-1zM219 591h2v1h-2zM257 591h1v1h-1zM309 591h1v1h-1zM398 591h1v1h-1zM450 591h1v1h-1zM456 591h1v1h-1zM460 591h1v1h-1zM559 591h1v1h-1zM122 592h3v1h-3zM136 592h3v1h-3zM216 592h3v1h-3zM221 592h5v1h-5zM256 592h1v1h-1zM310 592h3v1h-3zM397 592h1v1h-1zM450 592h1v1h-1zM454 592h2v1h-2zM461 592h1v1h-1zM557 592h2v1h-2zM139 593h9v1h-9zM215 593h1v1h-1zM226 593h2v1h-2zM255 593h1v1h-1zM313 593h1v1h-1zM397 593h1v1h-1zM450 593h1v1h-1zM452 593h2v1h-2zM462 593h1v1h-1zM556 593h1v1h-1zM148 594h1v1h-1zM212 594h3v1h-3zM228 594h2v1h-2zM254 594h1v1h-1zM314 594h2v1h-2zM396 594h1v1h-1zM451 594h1v1h-1zM463 594h1v1h-1zM553 594h3v1h-3zM149 595h1v1h-1zM211 595h1v1h-1zM230 595h1v1h-1zM253 595h1v1h-1zM316 595h1v1h-1zM396 595h1v1h-1zM463 595h1v1h-1zM550 595h3v1h-3zM150 596h1v1h-1zM210 596h1v1h-1zM231 596h1v1h-1zM253 596h1v1h-1zM317 596h2v1h-2zM387 596h9v1h-9zM464 596h1v1h-1zM547 596h3v1h-3zM151 597h1v1h-1zM209 597h1v1h-1zM232 597h1v1h-1zM252 597h1v1h-1zM319 597h1v1h-1zM386 597h1v1h-1zM465 597h1v1h-1zM546 597h1v1h-1zM152 598h1v1h-1zM209 598h1v1h-1zM233 598h2v1h-2zM249 598h3v1h-3zM320 598h2v1h-2zM329 598h13v1h-13zM386 598h1v1h-1zM466 598h1v1h-1zM546 598h1v1h-1zM153 599h1v1h-1zM208 599h1v1h-1zM235 599h4v1h-4zM246 599h3v1h-3zM322 599h1v1h-1zM326 599h3v1h-3zM342 599h3v1h-3zM385 599h1v1h-1zM466 599h1v1h-1zM545 599h1v1h-1zM154 600h1v1h-1zM207 600h1v1h-1zM239 600h7v1h-7zM323 600h3v1h-3zM345 600h7v1h-7zM371 600h1v1h-1zM384 600h1v1h-1zM467 600h2v1h-2zM545 600h1v1h-1zM155 601h4v1h-4zM206 601h1v1h-1zM352 601h4v1h-4zM370 601h1v1h-1zM372 601h1v1h-1zM384 601h1v1h-1zM469 601h1v1h-1zM544 601h1v1h-1zM159 602h9v1h-9zM205 602h1v1h-1zM356 602h2v1h-2zM368 602h2v1h-2zM373 602h1v1h-1zM383 602h1v1h-1zM470 602h3v1h-3zM544 602h1v1h-1zM168 603h5v1h-5zM205 603h1v1h-1zM358 603h1v1h-1zM367 603h1v1h-1zM374 603h1v1h-1zM382 603h1v1h-1zM473 603h1v1h-1zM543 603h1v1h-1zM173 604h3v1h-3zM204 604h1v1h-1zM359 604h2v1h-2zM365 604h2v1h-2zM375 604h1v1h-1zM382 604h1v1h-1zM474 604h14v1h-14zM542 604h1v1h-1zM176 605h2v1h-2zM194 605h10v1h-10zM361 605h2v1h-2zM364 605h1v1h-1zM376 605h1v1h-1zM381 605h1v1h-1zM488 605h5v1h-5zM542 605h1v1h-1zM178 606h6v1h-6zM189 606h5v1h-5zM363 606h1v1h-1zM377 606h1v1h-1zM380 606h1v1h-1zM493 606h3v1h-3zM541 606h1v1h-1zM184 607h5v1h-5zM378 607h1v1h-1zM380 607h1v1h-1zM496 607h2v1h-2zM541 607h1v1h-1zM379 608h1v1h-1zM498 608h3v1h-3zM540 608h1v1h-1zM501 609h2v1h-2zM514 609h21v1h-21zM540 609h1v1h-1zM503 610h3v1h-3zM509 610h5v1h-5zM535 610h5v1h-5zM506 611h3v1h-3z"/>
<text x="7" y="546" font-size="10" fill="#000" stroke="#000" stroke-width="0.15" textLength="68" lengthAdjust="spacingAndGlyphs">RSI(14) 62.6480</text>
<text x="1599" y="544" font-size="10" fill="#000" stroke="#000" stroke-width="0.15" textLength="14.5" lengthAdjust="spacingAndGlyphs">100</text>
<text x="1598" y="565" font-size="10" fill="#000" stroke="#000" stroke-width="0.15" textLength="9.5" lengthAdjust="spacingAndGlyphs">70</text>
<text x="1598" y="601" font-size="10" fill="#000" stroke="#000" stroke-width="0.15" textLength="9.5" lengthAdjust="spacingAndGlyphs">30</text>
<text x="1598" y="622" font-size="10" fill="#000" stroke="#000" stroke-width="0.15" textLength="4.8" lengthAdjust="spacingAndGlyphs">0</text>
<g class="c">
<rect x="3" y="655" width="1" height="10" fill="#c0c0c0"/>
<rect x="11" y="657" width="1" height="8" fill="#c0c0c0"/>
<rect x="19" y="660" width="1" height="5" fill="#c0c0c0"/>
<rect x="27" y="662" width="1" height="3" fill="#c0c0c0"/>
<rect x="35" y="663" width="1" height="2" fill="#c0c0c0"/>
<rect x="43" y="664" width="1" height="1" fill="#c0c0c0"/>
<rect x="51" y="664" width="1" height="1" fill="#c0c0c0"/>
<rect x="59" y="664" width="1" height="1" fill="#c0c0c0"/>
<rect x="67" y="664" width="1" height="1" fill="#c0c0c0"/>
<rect x="75" y="664" width="1" height="1" fill="#c0c0c0"/>
<rect x="99" y="664" width="1" height="1" fill="#c0c0c0"/>
<rect x="107" y="664" width="1" height="2" fill="#c0c0c0"/>
<rect x="115" y="664" width="1" height="2" fill="#c0c0c0"/>
<rect x="123" y="664" width="1" height="3" fill="#c0c0c0"/>
<rect x="131" y="664" width="1" height="3" fill="#c0c0c0"/>
<rect x="139" y="664" width="1" height="4" fill="#c0c0c0"/>
<rect x="147" y="664" width="1" height="4" fill="#c0c0c0"/>
<rect x="155" y="664" width="1" height="5" fill="#c0c0c0"/>
<rect x="163" y="664" width="1" height="6" fill="#c0c0c0"/>
<rect x="171" y="664" width="1" height="7" fill="#c0c0c0"/>
<rect x="179" y="664" width="1" height="8" fill="#c0c0c0"/>
<rect x="187" y="664" width="1" height="9" fill="#c0c0c0"/>
<rect x="195" y="664" width="1" height="10" fill="#c0c0c0"/>
<rect x="203" y="664" width="1" height="11" fill="#c0c0c0"/>
<rect x="211" y="664" width="1" height="11" fill="#c0c0c0"/>
<rect x="219" y="664" width="1" height="10" fill="#c0c0c0"/>
<rect x="227" y="664" width="1" height="10" fill="#c0c0c0"/>
<rect x="235" y="664" width="1" height="11" fill="#c0c0c0"/>
<rect x="243" y="664" width="1" height="11" fill="#c0c0c0"/>
<rect x="251" y="664" width="1" height="11" fill="#c0c0c0"/>
<rect x="259" y="664" width="1" height="9" fill="#c0c0c0"/>
<rect x="267" y="664" width="1" height="8" fill="#c0c0c0"/>
<rect x="275" y="664" width="1" height="8" fill="#c0c0c0"/>
<rect x="283" y="664" width="1" height="7" fill="#c0c0c0"/>
<rect x="291" y="664" width="1" height="7" fill="#c0c0c0"/>
<rect x="299" y="664" width="1" height="7" fill="#c0c0c0"/>
<rect x="307" y="664" width="1" height="8" fill="#c0c0c0"/>
<rect x="315" y="664" width="1" height="8" fill="#c0c0c0"/>
<rect x="323" y="664" width="1" height="8" fill="#c0c0c0"/>
<rect x="331" y="664" width="1" height="8" fill="#c0c0c0"/>
<rect x="339" y="664" width="1" height="8" fill="#c0c0c0"/>
<rect x="347" y="664" width="1" height="9" fill="#c0c0c0"/>
<rect x="355" y="664" width="1" height="9" fill="#c0c0c0"/>
<rect x="363" y="664" width="1" height="10" fill="#c0c0c0"/>
<rect x="371" y="664" width="1" height="10" fill="#c0c0c0"/>
<rect x="379" y="664" width="1" height="14" fill="#c0c0c0"/>
<rect x="387" y="664" width="1" height="14" fill="#c0c0c0"/>
<rect x="395" y="664" width="1" height="14" fill="#c0c0c0"/>
<rect x="403" y="664" width="1" height="13" fill="#c0c0c0"/>
<rect x="411" y="664" width="1" height="10" fill="#c0c0c0"/>
<rect x="419" y="664" width="1" height="9" fill="#c0c0c0"/>
<rect x="427" y="664" width="1" height="8" fill="#c0c0c0"/>
<rect x="435" y="664" width="1" height="7" fill="#c0c0c0"/>
<rect x="443" y="664" width="1" height="6" fill="#c0c0c0"/>
<rect x="451" y="664" width="1" height="8" fill="#c0c0c0"/>
<rect x="459" y="664" width="1" height="9" fill="#c0c0c0"/>
<rect x="467" y="664" width="1" height="14" fill="#c0c0c0"/>
<rect x="475" y="664" width="1" height="19" fill="#c0c0c0"/>
<rect x="483" y="664" width="1" height="24" fill="#c0c0c0"/>
<rect x="491" y="664" width="1" height="27" fill="#c0c0c0"/>
<rect x="499" y="664" width="1" height="32" fill="#c0c0c0"/>
<rect x="507" y="664" width="1" height="39" fill="#c0c0c0"/>
<rect x="515" y="664" width="1" height="43" fill="#c0c0c0"/>
<rect x="523" y="664" width="1" height="46" fill="#c0c0c0"/>
<rect x="531" y="664" width="1" height="48" fill="#c0c0c0"/>
<rect x="539" y="664" width="1" height="50" fill="#c0c0c0"/>
<rect x="547" y="664" width="1" height="48" fill="#c0c0c0"/>
<rect x="555" y="664" width="1" height="46" fill="#c0c0c0"/>
<rect x="563" y="664" width="1" height="41" fill="#c0c0c0"/>
<rect x="571" y="664" width="1" height="37" fill="#c0c0c0"/>
<rect x="579" y="664" width="1" height="31" fill="#c0c0c0"/>
<rect x="587" y="664" width="1" height="27" fill="#c0c0c0"/>
<rect x="595" y="664" width="1" height="24" fill="#c0c0c0"/>
<rect x="603" y="664" width="1" height="21" fill="#c0c0c0"/>
<rect x="611" y="664" width="1" height="20" fill="#c0c0c0"/>
<rect x="619" y="664" width="1" height="20" fill="#c0c0c0"/>
<rect x="627" y="664" width="1" height="20" fill="#c0c0c0"/>
<rect x="635" y="664" width="1" height="18" fill="#c0c0c0"/>
<rect x="643" y="664" width="1" height="14" fill="#c0c0c0"/>
<rect x="651" y="664" width="1" height="11" fill="#c0c0c0"/>
<rect x="659" y="664" width="1" height="6" fill="#c0c0c0"/>
<rect x="667" y="664" width="1" height="1" fill="#c0c0c0"/>
<rect x="675" y="663" width="1" height="2" fill="#c0c0c0"/>
<rect x="683" y="660" width="1" height="5" fill="#c0c0c0"/>
<rect x="691" y="657" width="1" height="8" fill="#c0c0c0"/>
<rect x="699" y="656" width="1" height="9" fill="#c0c0c0"/>
<rect x="707" y="656" width="1" height="9" fill="#c0c0c0"/>
<rect x="715" y="655" width="1" height="10" fill="#c0c0c0"/>
<rect x="723" y="655" width="1" height="10" fill="#c0c0c0"/>
<rect x="731" y="654" width="1" height="11" fill="#c0c0c0"/>
<rect x="739" y="655" width="1" height="10" fill="#c0c0c0"/>
<rect x="747" y="655" width="1" height="10" fill="#c0c0c0"/>
<rect x="755" y="655" width="1" height="10" fill="#c0c0c0"/>
<rect x="763" y="655" width="1" height="10" fill="#c0c0c0"/>
<rect x="771" y="654" width="1" height="11" fill="#c0c0c0"/>
<rect x="779" y="653" width="1" height="12" fill="#c0c0c0"/>
<rect x="787" y="651" width="1" height="14" fill="#c0c0c0"/>
<rect x="795" y="649" width="1" height="16" fill="#c0c0c0"/>
<rect x="803" y="648" width="1" height="17" fill="#c0c0c0"/>
<rect x="811" y="650" width="1" height="15" fill="#c0c0c0"/>
<rect x="819" y="652" width="1" height="13" fill="#c0c0c0"/>
<rect x="827" y="652" width="1" height="13" fill="#c0c0c0"/>
<rect x="835" y="652" width="1" height="13" fill="#c0c0c0"/>
<rect x="843" y="653" width="1" height="12" fill="#c0c0c0"/>
<rect x="851" y="653" width="1" height="12" fill="#c0c0c0"/>
<rect x="859" y="652" width="1" height="13" fill="#c0c0c0"/>
<rect x="867" y="650" width="1" height="15" fill="#c0c0c0"/>
<rect x="875" y="652" width="1" height="13" fill="#c0c0c0"/>
<rect x="883" y="652" width="1" height="13" fill="#c0c0c0"/>
<rect x="891" y="653" width="1" height="12" fill="#c0c0c0"/>
<rect x="899" y="655" width="1" height="10" fill="#c0c0c0"/>
<rect x="907" y="657" width="1" height="8" fill="#c0c0c0"/>
<rect x="915" y="658" width="1" height="7" fill="#c0c0c0"/>
<rect x="923" y="657" width="1" height="8" fill="#c0c0c0"/>
<rect x="931" y="656" width="1" height="9" fill="#c0c0c0"/>
<rect x="939" y="655" width="1" height="10" fill="#c0c0c0"/>
<rect x="947" y="654" width="1" height="11" fill="#c0c0c0"/>
<rect x="955" y="654" width="1" height="11" fill="#c0c0c0"/>
<rect x="963" y="655" width="1" height="10" fill="#c0c0c0"/>
<rect x="971" y="655" width="1" height="10" fill="#c0c0c0"/>
<rect x="979" y="653" width="1" height="12" fill="#c0c0c0"/>
<rect x="987" y="653" width="1" height="12" fill="#c0c0c0"/>
<rect x="995" y="653" width="1" height="12" fill="#c0c0c0"/>
<rect x="1003" y="652" width="1" height="13" fill="#c0c0c0"/>
<rect x="1011" y="652" width="1" height="13" fill="#c0c0c0"/>
<rect x="1019" y="648" width="1" height="17" fill="#c0c0c0"/>
<rect x="1027" y="645" width="1" height="20" fill="#c0c0c0"/>
<rect x="1035" y="641" width="1" height="24" fill="#c0c0c0"/>
<rect x="1043" y="639" width="1" height="26" fill="#c0c0c0"/>
<rect x="1051" y="636" width="1" height="29" fill="#c0c0c0"/>
<rect x="1059" y="635" width="1" height="30" fill="#c0c0c0"/>
<rect x="1067" y="634" width="1" height="31" fill="#c0c0c0"/>
<rect x="1075" y="634" width="1" height="31" fill="#c0c0c0"/>
<rect x="1083" y="634" width="1" height="31" fill="#c0c0c0"/>
<rect x="1091" y="637" width="1" height="28" fill="#c0c0c0"/>
<rect x="1099" y="638" width="1" height="27" fill="#c0c0c0"/>
<rect x="1107" y="641" width="1" height="24" fill="#c0c0c0"/>
<rect x="1115" y="643" width="1" height="22" fill="#c0c0c0"/>
<rect x="1123" y="644" width="1" height="21" fill="#c0c0c0"/>
<rect x="1131" y="645" width="1" height="20" fill="#c0c0c0"/>
<rect x="1139" y="647" width="1" height="18" fill="#c0c0c0"/>
<rect x="1147" y="649" width="1" height="16" fill="#c0c0c0"/>
<rect x="1155" y="650" width="1" height="15" fill="#c0c0c0"/>
<rect x="1163" y="651" width="1" height="14" fill="#c0c0c0"/>
<rect x="1171" y="650" width="1" height="15" fill="#c0c0c0"/>
<rect x="1179" y="651" width="1" height="14" fill="#c0c0c0"/>
<rect x="1187" y="653" width="1" height="12" fill="#c0c0c0"/>
<rect x="1195" y="654" width="1" height="11" fill="#c0c0c0"/>
<rect x="1203" y="655" width="1" height="10" fill="#c0c0c0"/>
<rect x="1211" y="656" width="1" height="9" fill="#c0c0c0"/>
<rect x="1219" y="656" width="1" height="9" fill="#c0c0c0"/>
<rect x="1227" y="656" width="1" height="9" fill="#c0c0c0"/>
<rect x="1235" y="656" width="1" height="9" fill="#c0c0c0"/>
<rect x="1243" y="656" width="1" height="9" fill="#c0c0c0"/>
<rect x="1251" y="656" width="1" height="9" fill="#c0c0c0"/>
<rect x="1259" y="656" width="1" height="9" fill="#c0c0c0"/>
</g>
<path class="c" fill="#ff0000" d="M1096 635h2v1h-2zM1101 635h3v1h-3zM1107 635h3v1h-3zM1113 635h1v1h-1zM1089 636h3v1h-3zM1095 636h1v1h-1zM1114 636h2v1h-2zM1119 636h3v1h-3zM1083 637h3v1h-3zM1125 637h3v1h-3zM1078 638h2v1h-2zM1131 638h3v1h-3zM1073 639h1v1h-1zM1077 639h1v1h-1zM1137 639h3v1h-3zM1071 640h2v1h-2zM1143 640h3v1h-3zM1065 641h3v1h-3zM1149 641h1v1h-1zM1060 642h2v1h-2zM1150 642h2v1h-2zM1059 643h1v1h-1zM1155 643h3v1h-3zM1053 644h3v1h-3zM1161 644h3v1h-3zM1049 645h1v1h-1zM1167 645h3v1h-3zM1047 646h2v1h-2zM1173 646h3v1h-3zM1041 647h3v1h-3zM1179 647h3v1h-3zM1037 648h1v1h-1zM1185 648h3v1h-3zM1035 649h2v1h-2zM1191 649h3v1h-3zM819 650h3v1h-3zM825 650h3v1h-3zM831 650h3v1h-3zM837 650h3v1h-3zM843 650h3v1h-3zM849 650h3v1h-3zM855 650h3v1h-3zM861 650h3v1h-3zM867 650h3v1h-3zM873 650h3v1h-3zM1029 650h3v1h-3zM1197 650h3v1h-3zM1203 650h3v1h-3zM1209 650h1v1h-1zM807 651h3v1h-3zM813 651h3v1h-3zM879 651h3v1h-3zM885 651h3v1h-3zM891 651h2v1h-2zM1023 651h3v1h-3zM1210 651h2v1h-2zM1215 651h3v1h-3zM795 652h3v1h-3zM801 652h3v1h-3zM893 652h1v1h-1zM897 652h3v1h-3zM903 652h3v1h-3zM1011 652h3v1h-3zM1017 652h3v1h-3zM1221 652h3v1h-3zM1227 652h3v1h-3zM777 653h3v1h-3zM783 653h3v1h-3zM789 653h3v1h-3zM909 653h3v1h-3zM915 653h3v1h-3zM921 653h2v1h-2zM993 653h3v1h-3zM999 653h3v1h-3zM1005 653h3v1h-3zM1233 653h3v1h-3zM1239 653h3v1h-3zM1245 653h3v1h-3zM755 654h1v1h-1zM759 654h3v1h-3zM765 654h3v1h-3zM771 654h3v1h-3zM923 654h1v1h-1zM927 654h3v1h-3zM933 654h3v1h-3zM939 654h3v1h-3zM945 654h1v1h-1zM970 654h2v1h-2zM975 654h3v1h-3zM981 654h3v1h-3zM987 654h3v1h-3zM1251 654h3v1h-3zM1257 654h3v1h-3zM3 655h3v1h-3zM9 655h3v1h-3zM15 655h3v1h-3zM21 655h3v1h-3zM742 655h2v1h-2zM747 655h3v1h-3zM753 655h2v1h-2zM946 655h2v1h-2zM951 655h3v1h-3zM957 655h3v1h-3zM963 655h3v1h-3zM969 655h1v1h-1zM27 656h3v1h-3zM735 656h3v1h-3zM741 656h1v1h-1zM33 657h3v1h-3zM39 657h3v1h-3zM45 657h3v1h-3zM51 657h1v1h-1zM729 657h3v1h-3zM52 658h2v1h-2zM724 658h2v1h-2zM723 659h1v1h-1zM57 660h3v1h-3zM718 660h2v1h-2zM63 661h3v1h-3zM69 661h3v1h-3zM75 661h3v1h-3zM717 661h1v1h-1zM81 662h3v1h-3zM712 662h2v1h-2zM87 663h3v1h-3zM93 663h3v1h-3zM99 663h3v1h-3zM711 663h1v1h-1zM105 664h3v1h-3zM111 664h3v1h-3zM117 664h3v1h-3zM123 664h3v1h-3zM707 664h1v1h-1zM129 665h3v1h-3zM135 665h3v1h-3zM705 665h2v1h-2zM141 666h3v1h-3zM147 666h3v1h-3zM153 666h3v1h-3zM159 667h3v1h-3zM165 667h3v1h-3zM699 667h3v1h-3zM171 668h3v1h-3zM177 668h2v1h-2zM179 669h1v1h-1zM183 669h1v1h-1zM694 669h2v1h-2zM184 670h2v1h-2zM189 670h2v1h-2zM693 670h1v1h-1zM191 671h1v1h-1zM195 671h2v1h-2zM688 671h2v1h-2zM197 672h1v1h-1zM201 672h3v1h-3zM309 672h3v1h-3zM315 672h3v1h-3zM321 672h3v1h-3zM327 672h3v1h-3zM333 672h3v1h-3zM339 672h3v1h-3zM345 672h3v1h-3zM351 672h3v1h-3zM357 672h3v1h-3zM363 672h3v1h-3zM687 672h1v1h-1zM207 673h3v1h-3zM285 673h3v1h-3zM291 673h3v1h-3zM297 673h3v1h-3zM303 673h3v1h-3zM369 673h3v1h-3zM375 673h1v1h-1zM682 673h2v1h-2zM213 674h3v1h-3zM219 674h3v1h-3zM225 674h3v1h-3zM231 674h3v1h-3zM237 674h3v1h-3zM243 674h3v1h-3zM249 674h3v1h-3zM255 674h3v1h-3zM261 674h3v1h-3zM267 674h3v1h-3zM273 674h3v1h-3zM279 674h3v1h-3zM376 674h2v1h-2zM381 674h3v1h-3zM447 674h3v1h-3zM453 674h3v1h-3zM459 674h3v1h-3zM465 674h3v1h-3zM471 674h3v1h-3zM477 674h1v1h-1zM681 674h1v1h-1zM387 675h3v1h-3zM393 675h2v1h-2zM441 675h3v1h-3zM478 675h2v1h-2zM676 675h2v1h-2zM395 676h1v1h-1zM399 676h3v1h-3zM405 676h3v1h-3zM411 676h3v1h-3zM417 676h3v1h-3zM423 676h3v1h-3zM429 676h3v1h-3zM435 676h3v1h-3zM483 676h3v1h-3zM675 676h1v1h-1zM489 677h2v1h-2zM670 677h2v1h-2zM491 678h1v1h-1zM669 678h1v1h-1zM495 679h3v1h-3zM664 679h2v1h-2zM501 680h1v1h-1zM663 680h1v1h-1zM502 681h2v1h-2zM658 681h2v1h-2zM657 682h1v1h-1zM507 683h1v1h-1zM652 683h2v1h-2zM508 684h2v1h-2zM651 684h1v1h-1zM645 685h3v1h-3zM513 686h1v1h-1zM641 686h1v1h-1zM514 687h2v1h-2zM639 687h2v1h-2zM634 688h2v1h-2zM519 689h1v1h-1zM633 689h1v1h-1zM520 690h2v1h-2zM629 690h1v1h-1zM627 691h2v1h-2zM525 692h1v1h-1zM526 693h2v1h-2zM622 693h2v1h-2zM621 694h1v1h-1zM531 695h1v1h-1zM616 695h2v1h-2zM532 696h2v1h-2zM615 696h1v1h-1zM610 697h2v1h-2zM537 698h1v1h-1zM609 698h1v1h-1zM538 699h2v1h-2zM604 699h2v1h-2zM603 700h1v1h-1zM543 701h1v1h-1zM598 701h2v1h-2zM544 702h2v1h-2zM597 702h1v1h-1zM592 703h2v1h-2zM549 704h3v1h-3zM591 704h1v1h-1zM585 705h3v1h-3zM555 706h3v1h-3zM579 706h3v1h-3zM561 707h2v1h-2zM573 707h3v1h-3zM563 708h1v1h-1zM567 708h3v1h-3z"/>
<text x="7.3" y="640" font-size="10" fill="#000" stroke="#000" stroke-width="0.15" textLength="65.6" lengthAdjust="spacingAndGlyphs">MACD(12,26,9)</text>
<text x="76.3" y="640" font-size="10" fill="#000" stroke="#000" stroke-width="0.15" textLength="37" lengthAdjust="spacingAndGlyphs">0.004133</text>
<text x="117.3" y="640" font-size="10" fill="#000" stroke="#000" stroke-width="0.15" textLength="37.5" lengthAdjust="spacingAndGlyphs">0.004062</text>
<g class="c">
<rect x="1596" y="664" width="2" height="1" fill="#000"/>
</g>
<text x="1598" y="638" font-size="10" fill="#000" stroke="#000" stroke-width="0.15" textLength="38" lengthAdjust="spacingAndGlyphs">0.015741</text>
<text x="1598.5" y="668" font-size="10" fill="#000" stroke="#000" stroke-width="0.15" textLength="18" lengthAdjust="spacingAndGlyphs">0.00</text>
<text x="1598.5" y="716" font-size="10" fill="#000" stroke="#000" stroke-width="0.15" textLength="41.5" lengthAdjust="spacingAndGlyphs">-0.024412</text>
<text transform="translate(2.5,732) scale(0.905,1)" font-size="10" fill="#000" stroke="#000" stroke-width="0.15">4 Jan 2020</text>
<text transform="translate(66.5,732) scale(0.905,1)" font-size="10" fill="#000" stroke="#000" stroke-width="0.15">14 Jan 2020</text>
<text transform="translate(130.5,732) scale(0.905,1)" font-size="10" fill="#000" stroke="#000" stroke-width="0.15">23 Jan 2020</text>
<text transform="translate(194.5,732) scale(0.905,1)" font-size="10" fill="#000" stroke="#000" stroke-width="0.15">1 Feb 2020</text>
<text transform="translate(258.5,732) scale(0.905,1)" font-size="10" fill="#000" stroke="#000" stroke-width="0.15">11 Feb 2020</text>
<text transform="translate(322.5,732) scale(0.905,1)" font-size="10" fill="#000" stroke="#000" stroke-width="0.15">20 Feb 2020</text>
<text transform="translate(386.5,732) scale(0.905,1)" font-size="10" fill="#000" stroke="#000" stroke-width="0.15">29 Feb 2020</text>
<text transform="translate(450.5,732) scale(0.905,1)" font-size="10" fill="#000" stroke="#000" stroke-width="0.15">10 Mar 2020</text>
<text transform="translate(514.5,732) scale(0.905,1)" font-size="10" fill="#000" stroke="#000" stroke-width="0.15">19 Mar 2020</text>
<text transform="translate(578.5,732) scale(0.905,1)" font-size="10" fill="#000" stroke="#000" stroke-width="0.15">28 Mar 2020</text>
<text transform="translate(642.5,732) scale(0.905,1)" font-size="10" fill="#000" stroke="#000" stroke-width="0.15">7 Apr 2020</text>
<text transform="translate(706.5,732) scale(0.905,1)" font-size="10" fill="#000" stroke="#000" stroke-width="0.15">16 Apr 2020</text>
<text transform="translate(770.5,732) scale(0.905,1)" font-size="10" fill="#000" stroke="#000" stroke-width="0.15">25 Apr 2020</text>
<text transform="translate(834.5,732) scale(0.905,1)" font-size="10" fill="#000" stroke="#000" stroke-width="0.15">5 May 2020</text>
<text transform="translate(898.5,732) scale(0.905,1)" font-size="10" fill="#000" stroke="#000" stroke-width="0.15">14 May 2020</text>
<text transform="translate(962.5,732) scale(0.905,1)" font-size="10" fill="#000" stroke="#000" stroke-width="0.15">23 May 2020</text>
<text transform="translate(1026.5,732) scale(0.905,1)" font-size="10" fill="#000" stroke="#000" stroke-width="0.15">2 Jun 2020</text>
<text transform="translate(1090.5,732) scale(0.905,1)" font-size="10" fill="#000" stroke="#000" stroke-width="0.15">11 Jun 2020</text>
<text transform="translate(1154.5,732) scale(0.905,1)" font-size="10" fill="#000" stroke="#000" stroke-width="0.15">20 Jun 2020</text>
<text transform="translate(1218.5,732) scale(0.905,1)" font-size="10" fill="#000" stroke="#000" stroke-width="0.15">30 Jun 2020</text>
<g class="c">
<rect x="0" y="740" width="1638" height="1" fill="#e8e8e8"/>
<rect x="0" y="742" width="1638" height="1" fill="#000"/>
<rect x="0" y="743" width="1638" height="18" fill="#f0f0f0"/>
<rect x="0" y="763" width="1638" height="3" fill="#f0f0f0"/>
<rect x="208" y="742" width="105" height="19" fill="#000"/>
<rect x="209" y="741" width="103" height="19" fill="#fff"/>
</g>
<text x="16.7" y="756.6" font-size="12" fill="#6a6a6a" textLength="79.6" lengthAdjust="spacingAndGlyphs">EURUSD,Daily</text>
<text x="118.7" y="756.6" font-size="12" fill="#6a6a6a" textLength="78.0" lengthAdjust="spacingAndGlyphs">USDCHF,Daily</text>
<text x="323.3" y="756.6" font-size="12" fill="#6a6a6a" textLength="80.7" lengthAdjust="spacingAndGlyphs">USDCAD,Daily</text>
<text x="426" y="756.6" font-size="12" fill="#6a6a6a" textLength="83.3" lengthAdjust="spacingAndGlyphs">USDCNH,Daily</text>
<text x="531" y="756.6" font-size="12" fill="#6a6a6a" textLength="77.3" lengthAdjust="spacingAndGlyphs">EURUSD,M15</text>
<text x="630.7" y="756.6" font-size="12" fill="#6a6a6a" textLength="78.3" lengthAdjust="spacingAndGlyphs">GBPUSD,M30</text>
<text x="730.7" y="756.6" font-size="12" fill="#6a6a6a" textLength="81.3" lengthAdjust="spacingAndGlyphs">XAUUSD,Daily</text>
<text x="835" y="756.6" font-size="12" fill="#6a6a6a" textLength="49.3" lengthAdjust="spacingAndGlyphs">HK50,H1</text>
<text x="907.3" y="756.6" font-size="12" fill="#6a6a6a" textLength="56.0" lengthAdjust="spacingAndGlyphs">UK100,H1</text>
<text x="987.3" y="756.6" font-size="12" fill="#6a6a6a" textLength="56.0" lengthAdjust="spacingAndGlyphs">UK100,H1</text>
<text x="1067.3" y="756.6" font-size="12" fill="#6a6a6a" textLength="56.0" lengthAdjust="spacingAndGlyphs">GER30,H1</text>
<text x="1146.7" y="756.6" font-size="12" fill="#6a6a6a" textLength="53.3" lengthAdjust="spacingAndGlyphs">FRA40,H1</text>
<text x="1222.7" y="756.6" font-size="12" fill="#6a6a6a" textLength="62.3" lengthAdjust="spacingAndGlyphs">USOil,Daily</text>
<text x="1306.3" y="756.6" font-size="12" fill="#6a6a6a" textLength="62.4" lengthAdjust="spacingAndGlyphs">USDJPY,H1</text>
<text x="1391.3" y="756.6" font-size="12" fill="#6a6a6a" textLength="56.4" lengthAdjust="spacingAndGlyphs">DJ30,M15</text>
<text x="219" y="756.6" font-size="12" fill="#000" textLength="82" lengthAdjust="spacingAndGlyphs">AUDUSD,Daily</text>
<g class="c">
<rect x="108" y="745" width="1" height="14" fill="#505050"/>
<rect x="416" y="745" width="1" height="14" fill="#505050"/>
<rect x="520" y="745" width="1" height="14" fill="#505050"/>
<rect x="620" y="745" width="1" height="14" fill="#505050"/>
<rect x="720" y="745" width="1" height="14" fill="#505050"/>
<rect x="824" y="745" width="1" height="14" fill="#505050"/>
<rect x="896" y="745" width="1" height="14" fill="#505050"/>
<rect x="976" y="745" width="1" height="14" fill="#505050"/>
<rect x="1056" y="745" width="1" height="14" fill="#505050"/>
<rect x="1136" y="745" width="1" height="14" fill="#505050"/>
<rect x="1212" y="745" width="1" height="14" fill="#505050"/>
<rect x="1296" y="745" width="1" height="14" fill="#505050"/>
<rect x="1380" y="745" width="1" height="14" fill="#505050"/>
<rect x="1460" y="745" width="1" height="14" fill="#505050"/>
</g>
<path d="M1614 747.5 L1614 754.5 L1610 751 Z" fill="#808080"/>
<path d="M1629 747.5 L1629 754.5 L1633 751 Z" fill="#808080"/>
</svg></body></html>
